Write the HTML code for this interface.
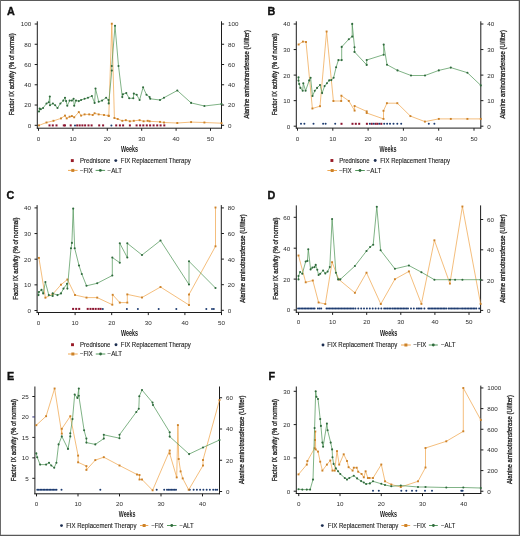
<!DOCTYPE html>
<html><head><meta charset="utf-8"><title>Figure</title>
<style>
html,body{margin:0;padding:0;background:#fff;}
body{width:520px;height:536px;overflow:hidden;}
svg{display:block;font-family:"Liberation Sans", sans-serif;filter:blur(0.3px);}
</style></head>
<body>
<svg width="520" height="536" viewBox="0 0 520 536">
<rect x="0" y="0" width="520" height="536" fill="#fff"/>
<text x="6.9" y="14.6" font-size="10.8" text-anchor="start" fill="#111" font-weight="bold" stroke="#111" stroke-width="0.35">A</text>
<line x1="37.3" y1="21.3" x2="37.3" y2="128.65" stroke="#1c1c1c" stroke-width="1"/>
<line x1="221.5" y1="21.3" x2="221.5" y2="128.65" stroke="#1c1c1c" stroke-width="1"/>
<line x1="36.85" y1="128.2" x2="221.95" y2="128.2" stroke="#1c1c1c" stroke-width="1"/>
<line x1="34.7" y1="125.3" x2="37.3" y2="125.3" stroke="#1c1c1c" stroke-width="1"/>
<text x="0" y="0" font-size="6.3" text-anchor="end" fill="#2a2a2a" transform="translate(31.2 127.75) scale(1 0.9)">0</text>
<line x1="34.7" y1="105.04" x2="37.3" y2="105.04" stroke="#1c1c1c" stroke-width="1"/>
<text x="0" y="0" font-size="6.3" text-anchor="end" fill="#2a2a2a" transform="translate(31.2 107.49) scale(1 0.9)">20</text>
<line x1="34.7" y1="84.78" x2="37.3" y2="84.78" stroke="#1c1c1c" stroke-width="1"/>
<text x="0" y="0" font-size="6.3" text-anchor="end" fill="#2a2a2a" transform="translate(31.2 87.23) scale(1 0.9)">40</text>
<line x1="34.7" y1="64.52" x2="37.3" y2="64.52" stroke="#1c1c1c" stroke-width="1"/>
<text x="0" y="0" font-size="6.3" text-anchor="end" fill="#2a2a2a" transform="translate(31.2 66.97) scale(1 0.9)">60</text>
<line x1="34.7" y1="44.26" x2="37.3" y2="44.26" stroke="#1c1c1c" stroke-width="1"/>
<text x="0" y="0" font-size="6.3" text-anchor="end" fill="#2a2a2a" transform="translate(31.2 46.71) scale(1 0.9)">80</text>
<line x1="34.7" y1="24" x2="37.3" y2="24" stroke="#1c1c1c" stroke-width="1"/>
<text x="0" y="0" font-size="6.3" text-anchor="end" fill="#2a2a2a" transform="translate(31.2 26.45) scale(1 0.9)">100</text>
<line x1="221.5" y1="125.3" x2="224.1" y2="125.3" stroke="#1c1c1c" stroke-width="1"/>
<text x="0" y="0" font-size="6.3" text-anchor="start" fill="#2a2a2a" transform="translate(227.9 127.75) scale(1 0.9)">0</text>
<line x1="221.5" y1="105.04" x2="224.1" y2="105.04" stroke="#1c1c1c" stroke-width="1"/>
<text x="0" y="0" font-size="6.3" text-anchor="start" fill="#2a2a2a" transform="translate(227.9 107.49) scale(1 0.9)">20</text>
<line x1="221.5" y1="84.78" x2="224.1" y2="84.78" stroke="#1c1c1c" stroke-width="1"/>
<text x="0" y="0" font-size="6.3" text-anchor="start" fill="#2a2a2a" transform="translate(227.9 87.23) scale(1 0.9)">40</text>
<line x1="221.5" y1="64.52" x2="224.1" y2="64.52" stroke="#1c1c1c" stroke-width="1"/>
<text x="0" y="0" font-size="6.3" text-anchor="start" fill="#2a2a2a" transform="translate(227.9 66.97) scale(1 0.9)">60</text>
<line x1="221.5" y1="44.26" x2="224.1" y2="44.26" stroke="#1c1c1c" stroke-width="1"/>
<text x="0" y="0" font-size="6.3" text-anchor="start" fill="#2a2a2a" transform="translate(227.9 46.71) scale(1 0.9)">80</text>
<line x1="221.5" y1="24" x2="224.1" y2="24" stroke="#1c1c1c" stroke-width="1"/>
<text x="0" y="0" font-size="6.3" text-anchor="start" fill="#2a2a2a" transform="translate(227.9 26.45) scale(1 0.9)">100</text>
<line x1="38.5" y1="128.2" x2="38.5" y2="130.8" stroke="#1c1c1c" stroke-width="1"/>
<text x="0" y="0" font-size="6.3" text-anchor="middle" fill="#2a2a2a" transform="translate(38.5 140.75) scale(1 0.9)">0</text>
<line x1="72.9" y1="128.2" x2="72.9" y2="130.8" stroke="#1c1c1c" stroke-width="1"/>
<text x="0" y="0" font-size="6.3" text-anchor="middle" fill="#2a2a2a" transform="translate(72.9 140.75) scale(1 0.9)">10</text>
<line x1="107.3" y1="128.2" x2="107.3" y2="130.8" stroke="#1c1c1c" stroke-width="1"/>
<text x="0" y="0" font-size="6.3" text-anchor="middle" fill="#2a2a2a" transform="translate(107.3 140.75) scale(1 0.9)">20</text>
<line x1="141.7" y1="128.2" x2="141.7" y2="130.8" stroke="#1c1c1c" stroke-width="1"/>
<text x="0" y="0" font-size="6.3" text-anchor="middle" fill="#2a2a2a" transform="translate(141.7 140.75) scale(1 0.9)">30</text>
<line x1="176.1" y1="128.2" x2="176.1" y2="130.8" stroke="#1c1c1c" stroke-width="1"/>
<text x="0" y="0" font-size="6.3" text-anchor="middle" fill="#2a2a2a" transform="translate(176.1 140.75) scale(1 0.9)">40</text>
<line x1="210.5" y1="128.2" x2="210.5" y2="130.8" stroke="#1c1c1c" stroke-width="1"/>
<text x="0" y="0" font-size="6.3" text-anchor="middle" fill="#2a2a2a" transform="translate(210.5 140.75) scale(1 0.9)">50</text>
<text x="14.5" y="74.3" font-size="7.2" text-anchor="middle" fill="#1e1e1e" textLength="82" lengthAdjust="spacingAndGlyphs" transform="rotate(-90 14.5 74.3)" stroke="#1e1e1e" stroke-width="0.3">Factor IX activity (% of normal)</text>
<text x="248.8" y="74.25" font-size="7.2" text-anchor="middle" fill="#1e1e1e" textLength="88.5" lengthAdjust="spacingAndGlyphs" transform="rotate(-90 248.8 74.25)" stroke="#1e1e1e" stroke-width="0.3">Alanine aminotransferase (U/liter)</text>
<text x="129.5" y="152.1" font-size="8.2" text-anchor="middle" fill="#1e1e1e" font-weight="bold" textLength="17" lengthAdjust="spacingAndGlyphs">Weeks</text>
<rect x="48.5" y="124.4" width="2" height="2" fill="#8c1530"/>
<rect x="51.8" y="124.4" width="2" height="2" fill="#8c1530"/>
<rect x="55.5" y="124.4" width="2" height="2" fill="#8c1530"/>
<rect x="62.8" y="124.4" width="2" height="2" fill="#8c1530"/>
<rect x="64" y="124.4" width="2" height="2" fill="#8c1530"/>
<rect x="69.7" y="124.4" width="2" height="2" fill="#8c1530"/>
<rect x="76.2" y="124.4" width="2" height="2" fill="#8c1530"/>
<rect x="78.7" y="124.4" width="2" height="2" fill="#8c1530"/>
<rect x="81.4" y="124.4" width="2" height="2" fill="#8c1530"/>
<rect x="84.1" y="124.4" width="2" height="2" fill="#8c1530"/>
<rect x="87.5" y="124.4" width="2" height="2" fill="#8c1530"/>
<rect x="90.6" y="124.4" width="2" height="2" fill="#8c1530"/>
<rect x="98.2" y="124.4" width="2" height="2" fill="#8c1530"/>
<rect x="102.1" y="124.4" width="2" height="2" fill="#8c1530"/>
<rect x="115.2" y="124.4" width="2" height="2" fill="#8c1530"/>
<rect x="118.9" y="124.4" width="2" height="2" fill="#8c1530"/>
<rect x="122.1" y="124.4" width="2" height="2" fill="#8c1530"/>
<rect x="128.9" y="124.4" width="2" height="2" fill="#8c1530"/>
<rect x="135.6" y="124.4" width="2" height="2" fill="#8c1530"/>
<rect x="139.1" y="124.4" width="2" height="2" fill="#8c1530"/>
<rect x="142.3" y="124.4" width="2" height="2" fill="#8c1530"/>
<rect x="145.8" y="124.4" width="2" height="2" fill="#8c1530"/>
<rect x="149.1" y="124.4" width="2" height="2" fill="#8c1530"/>
<rect x="152.6" y="124.4" width="2" height="2" fill="#8c1530"/>
<rect x="156.2" y="124.4" width="2" height="2" fill="#8c1530"/>
<rect x="159.6" y="124.4" width="2" height="2" fill="#8c1530"/>
<rect x="163.3" y="124.4" width="2" height="2" fill="#8c1530"/>
<circle cx="75" cy="125.4" r="1" fill="#1d3b70"/>
<circle cx="111.4" cy="125.4" r="1" fill="#1d3b70"/>
<polyline fill="none" stroke="#f0a852" stroke-width="0.75" stroke-linejoin="round" points="39,125.4 46.5,122.5 53.5,120.8 61,118.4 65,115.6 66.7,118.4 69.6,116.7 71.9,116.1 74.2,117.3 78.8,112.1 81.1,115.6 84.6,114.4 89.2,114.4 92.7,115 94.6,113.3 98.7,114.4 104,115 108.5,115.6 108.8,116 111.8,23.7 114.4,118 117.7,119 122.3,120.8 125.8,120.2 129.8,121.3 133.8,120.8 139.6,120.2 143.6,121.3 147.7,120.8 149.6,121.3 160,121.9 164,122.5 177.3,123 191.1,122.1 204.4,122.5 221.5,123.2"/>
<rect x="38.05" y="124.45" width="1.9" height="1.9" fill="#cc8229"/>
<rect x="45.55" y="121.55" width="1.9" height="1.9" fill="#cc8229"/>
<rect x="52.55" y="119.85" width="1.9" height="1.9" fill="#cc8229"/>
<rect x="60.05" y="117.45" width="1.9" height="1.9" fill="#cc8229"/>
<rect x="64.05" y="114.65" width="1.9" height="1.9" fill="#cc8229"/>
<rect x="65.75" y="117.45" width="1.9" height="1.9" fill="#cc8229"/>
<rect x="68.65" y="115.75" width="1.9" height="1.9" fill="#cc8229"/>
<rect x="70.95" y="115.15" width="1.9" height="1.9" fill="#cc8229"/>
<rect x="73.25" y="116.35" width="1.9" height="1.9" fill="#cc8229"/>
<rect x="77.85" y="111.15" width="1.9" height="1.9" fill="#cc8229"/>
<rect x="80.15" y="114.65" width="1.9" height="1.9" fill="#cc8229"/>
<rect x="83.65" y="113.45" width="1.9" height="1.9" fill="#cc8229"/>
<rect x="88.25" y="113.45" width="1.9" height="1.9" fill="#cc8229"/>
<rect x="91.75" y="114.05" width="1.9" height="1.9" fill="#cc8229"/>
<rect x="93.65" y="112.35" width="1.9" height="1.9" fill="#cc8229"/>
<rect x="97.75" y="113.45" width="1.9" height="1.9" fill="#cc8229"/>
<rect x="103.05" y="114.05" width="1.9" height="1.9" fill="#cc8229"/>
<rect x="107.55" y="114.65" width="1.9" height="1.9" fill="#cc8229"/>
<rect x="107.85" y="115.05" width="1.9" height="1.9" fill="#cc8229"/>
<rect x="110.85" y="22.75" width="1.9" height="1.9" fill="#cc8229"/>
<rect x="113.45" y="117.05" width="1.9" height="1.9" fill="#cc8229"/>
<rect x="116.75" y="118.05" width="1.9" height="1.9" fill="#cc8229"/>
<rect x="121.35" y="119.85" width="1.9" height="1.9" fill="#cc8229"/>
<rect x="124.85" y="119.25" width="1.9" height="1.9" fill="#cc8229"/>
<rect x="128.85" y="120.35" width="1.9" height="1.9" fill="#cc8229"/>
<rect x="132.85" y="119.85" width="1.9" height="1.9" fill="#cc8229"/>
<rect x="138.65" y="119.25" width="1.9" height="1.9" fill="#cc8229"/>
<rect x="142.65" y="120.35" width="1.9" height="1.9" fill="#cc8229"/>
<rect x="146.75" y="119.85" width="1.9" height="1.9" fill="#cc8229"/>
<rect x="148.65" y="120.35" width="1.9" height="1.9" fill="#cc8229"/>
<rect x="159.05" y="120.95" width="1.9" height="1.9" fill="#cc8229"/>
<rect x="163.05" y="121.55" width="1.9" height="1.9" fill="#cc8229"/>
<rect x="176.35" y="122.05" width="1.9" height="1.9" fill="#cc8229"/>
<rect x="190.15" y="121.15" width="1.9" height="1.9" fill="#cc8229"/>
<rect x="203.45" y="121.55" width="1.9" height="1.9" fill="#cc8229"/>
<rect x="220.55" y="122.25" width="1.9" height="1.9" fill="#cc8229"/>
<polyline fill="none" stroke="#559a5e" stroke-width="0.75" stroke-linejoin="round" points="39,111.5 39.6,108.6 40.8,109.2 43.1,108 46.5,103.5 48.8,102.3 49.8,96.5 50,105.2 52.9,103.5 55.2,105.2 57.5,108 60.4,103.5 63.3,100.6 65,97.7 66.1,101.1 67.3,105.8 69.6,100.6 71.9,100.6 73.6,98.8 74.2,105.8 76,100.6 78.8,101.1 81.1,100 84.6,98.8 88,97.7 91.9,96 94.6,102.9 95.5,88.5 98.7,101.7 102.1,100.6 106.1,97.7 108.5,100 108.7,103.4 111.8,70.6 111.8,66 115,25.8 118.5,66 122.3,97.1 122.9,94.2 126.3,93.1 129.2,98.3 133.3,98.3 133.8,93.6 136.7,94.8 139.6,100 143.1,87.3 146.5,94.8 149.6,97.1 150.2,98.8 160,100 164,97.7 177.3,90.5 191.1,102.9 204.4,106 221.5,104"/>
<circle cx="39" cy="111.5" r="1.05" fill="#2f6a3c"/>
<circle cx="39.6" cy="108.6" r="1.05" fill="#2f6a3c"/>
<circle cx="40.8" cy="109.2" r="1.05" fill="#2f6a3c"/>
<circle cx="43.1" cy="108" r="1.05" fill="#2f6a3c"/>
<circle cx="46.5" cy="103.5" r="1.05" fill="#2f6a3c"/>
<circle cx="48.8" cy="102.3" r="1.05" fill="#2f6a3c"/>
<circle cx="49.8" cy="96.5" r="1.05" fill="#2f6a3c"/>
<circle cx="50" cy="105.2" r="1.05" fill="#2f6a3c"/>
<circle cx="52.9" cy="103.5" r="1.05" fill="#2f6a3c"/>
<circle cx="55.2" cy="105.2" r="1.05" fill="#2f6a3c"/>
<circle cx="57.5" cy="108" r="1.05" fill="#2f6a3c"/>
<circle cx="60.4" cy="103.5" r="1.05" fill="#2f6a3c"/>
<circle cx="63.3" cy="100.6" r="1.05" fill="#2f6a3c"/>
<circle cx="65" cy="97.7" r="1.05" fill="#2f6a3c"/>
<circle cx="66.1" cy="101.1" r="1.05" fill="#2f6a3c"/>
<circle cx="67.3" cy="105.8" r="1.05" fill="#2f6a3c"/>
<circle cx="69.6" cy="100.6" r="1.05" fill="#2f6a3c"/>
<circle cx="71.9" cy="100.6" r="1.05" fill="#2f6a3c"/>
<circle cx="73.6" cy="98.8" r="1.05" fill="#2f6a3c"/>
<circle cx="74.2" cy="105.8" r="1.05" fill="#2f6a3c"/>
<circle cx="76" cy="100.6" r="1.05" fill="#2f6a3c"/>
<circle cx="78.8" cy="101.1" r="1.05" fill="#2f6a3c"/>
<circle cx="81.1" cy="100" r="1.05" fill="#2f6a3c"/>
<circle cx="84.6" cy="98.8" r="1.05" fill="#2f6a3c"/>
<circle cx="88" cy="97.7" r="1.05" fill="#2f6a3c"/>
<circle cx="91.9" cy="96" r="1.05" fill="#2f6a3c"/>
<circle cx="94.6" cy="102.9" r="1.05" fill="#2f6a3c"/>
<circle cx="95.5" cy="88.5" r="1.05" fill="#2f6a3c"/>
<circle cx="98.7" cy="101.7" r="1.05" fill="#2f6a3c"/>
<circle cx="102.1" cy="100.6" r="1.05" fill="#2f6a3c"/>
<circle cx="106.1" cy="97.7" r="1.05" fill="#2f6a3c"/>
<circle cx="108.5" cy="100" r="1.05" fill="#2f6a3c"/>
<circle cx="108.7" cy="103.4" r="1.05" fill="#2f6a3c"/>
<circle cx="111.8" cy="70.6" r="1.05" fill="#2f6a3c"/>
<circle cx="111.8" cy="66" r="1.05" fill="#2f6a3c"/>
<circle cx="115" cy="25.8" r="1.05" fill="#2f6a3c"/>
<circle cx="118.5" cy="66" r="1.05" fill="#2f6a3c"/>
<circle cx="122.3" cy="97.1" r="1.05" fill="#2f6a3c"/>
<circle cx="122.9" cy="94.2" r="1.05" fill="#2f6a3c"/>
<circle cx="126.3" cy="93.1" r="1.05" fill="#2f6a3c"/>
<circle cx="129.2" cy="98.3" r="1.05" fill="#2f6a3c"/>
<circle cx="133.3" cy="98.3" r="1.05" fill="#2f6a3c"/>
<circle cx="133.8" cy="93.6" r="1.05" fill="#2f6a3c"/>
<circle cx="136.7" cy="94.8" r="1.05" fill="#2f6a3c"/>
<circle cx="139.6" cy="100" r="1.05" fill="#2f6a3c"/>
<circle cx="143.1" cy="87.3" r="1.05" fill="#2f6a3c"/>
<circle cx="146.5" cy="94.8" r="1.05" fill="#2f6a3c"/>
<circle cx="149.6" cy="97.1" r="1.05" fill="#2f6a3c"/>
<circle cx="150.2" cy="98.8" r="1.05" fill="#2f6a3c"/>
<circle cx="160" cy="100" r="1.05" fill="#2f6a3c"/>
<circle cx="164" cy="97.7" r="1.05" fill="#2f6a3c"/>
<circle cx="177.3" cy="90.5" r="1.05" fill="#2f6a3c"/>
<circle cx="191.1" cy="102.9" r="1.05" fill="#2f6a3c"/>
<circle cx="204.4" cy="106" r="1.05" fill="#2f6a3c"/>
<circle cx="221.5" cy="104" r="1.05" fill="#2f6a3c"/>
<rect x="70.85" y="159.15" width="2.9" height="2.9" fill="#981a26"/>
<text x="80.1" y="162.95" font-size="6.5" text-anchor="start" fill="#222" textLength="30.3" lengthAdjust="spacingAndGlyphs" stroke="#222" stroke-width="0.12">Prednisone</text>
<circle cx="115.8" cy="160.6" r="1.45" fill="#1b2d50"/>
<text x="120.8" y="162.95" font-size="6.5" text-anchor="start" fill="#222" textLength="70" lengthAdjust="spacingAndGlyphs" stroke="#222" stroke-width="0.12">FIX Replacement Therapy</text>
<line x1="68" y1="170.4" x2="77.6" y2="170.4" stroke="#f0a852" stroke-width="1"/>
<rect x="71.3" y="168.9" width="3" height="3" fill="#cc8229"/>
<text x="80.1" y="172.75" font-size="6.5" text-anchor="start" fill="#222" textLength="12.5" lengthAdjust="spacingAndGlyphs" stroke="#222" stroke-width="0.12">−FIX</text>
<line x1="95.6" y1="170.4" x2="105.1" y2="170.4" stroke="#559a5e" stroke-width="1"/>
<circle cx="100.35" cy="170.4" r="1.4" fill="#2f6a3c"/>
<text x="107.6" y="172.75" font-size="6.5" text-anchor="start" fill="#222" textLength="14.4" lengthAdjust="spacingAndGlyphs" stroke="#222" stroke-width="0.12">−ALT</text>
<text x="267.6" y="15" font-size="10.8" text-anchor="start" fill="#111" font-weight="bold" stroke="#111" stroke-width="0.35">B</text>
<line x1="296.3" y1="21.3" x2="296.3" y2="128.55" stroke="#1c1c1c" stroke-width="1"/>
<line x1="480.8" y1="21.3" x2="480.8" y2="128.55" stroke="#1c1c1c" stroke-width="1"/>
<line x1="295.85" y1="128.1" x2="481.25" y2="128.1" stroke="#1c1c1c" stroke-width="1"/>
<line x1="293.7" y1="126.2" x2="296.3" y2="126.2" stroke="#1c1c1c" stroke-width="1"/>
<text x="0" y="0" font-size="6.3" text-anchor="end" fill="#2a2a2a" transform="translate(290.2 128.65) scale(1 0.9)">0</text>
<line x1="293.7" y1="100.65" x2="296.3" y2="100.65" stroke="#1c1c1c" stroke-width="1"/>
<text x="0" y="0" font-size="6.3" text-anchor="end" fill="#2a2a2a" transform="translate(290.2 103.1) scale(1 0.9)">10</text>
<line x1="293.7" y1="75.1" x2="296.3" y2="75.1" stroke="#1c1c1c" stroke-width="1"/>
<text x="0" y="0" font-size="6.3" text-anchor="end" fill="#2a2a2a" transform="translate(290.2 77.55) scale(1 0.9)">20</text>
<line x1="293.7" y1="49.55" x2="296.3" y2="49.55" stroke="#1c1c1c" stroke-width="1"/>
<text x="0" y="0" font-size="6.3" text-anchor="end" fill="#2a2a2a" transform="translate(290.2 52) scale(1 0.9)">30</text>
<line x1="293.7" y1="24" x2="296.3" y2="24" stroke="#1c1c1c" stroke-width="1"/>
<text x="0" y="0" font-size="6.3" text-anchor="end" fill="#2a2a2a" transform="translate(290.2 26.45) scale(1 0.9)">40</text>
<line x1="480.8" y1="126.2" x2="483.4" y2="126.2" stroke="#1c1c1c" stroke-width="1"/>
<text x="0" y="0" font-size="6.3" text-anchor="start" fill="#2a2a2a" transform="translate(487.2 128.65) scale(1 0.9)">0</text>
<line x1="480.8" y1="100.65" x2="483.4" y2="100.65" stroke="#1c1c1c" stroke-width="1"/>
<text x="0" y="0" font-size="6.3" text-anchor="start" fill="#2a2a2a" transform="translate(487.2 103.1) scale(1 0.9)">10</text>
<line x1="480.8" y1="75.1" x2="483.4" y2="75.1" stroke="#1c1c1c" stroke-width="1"/>
<text x="0" y="0" font-size="6.3" text-anchor="start" fill="#2a2a2a" transform="translate(487.2 77.55) scale(1 0.9)">20</text>
<line x1="480.8" y1="49.55" x2="483.4" y2="49.55" stroke="#1c1c1c" stroke-width="1"/>
<text x="0" y="0" font-size="6.3" text-anchor="start" fill="#2a2a2a" transform="translate(487.2 52) scale(1 0.9)">30</text>
<line x1="480.8" y1="24" x2="483.4" y2="24" stroke="#1c1c1c" stroke-width="1"/>
<text x="0" y="0" font-size="6.3" text-anchor="start" fill="#2a2a2a" transform="translate(487.2 26.45) scale(1 0.9)">40</text>
<line x1="297.5" y1="128.1" x2="297.5" y2="130.7" stroke="#1c1c1c" stroke-width="1"/>
<text x="0" y="0" font-size="6.3" text-anchor="middle" fill="#2a2a2a" transform="translate(297.5 140.75) scale(1 0.9)">0</text>
<line x1="332.8" y1="128.1" x2="332.8" y2="130.7" stroke="#1c1c1c" stroke-width="1"/>
<text x="0" y="0" font-size="6.3" text-anchor="middle" fill="#2a2a2a" transform="translate(332.8 140.75) scale(1 0.9)">10</text>
<line x1="368.1" y1="128.1" x2="368.1" y2="130.7" stroke="#1c1c1c" stroke-width="1"/>
<text x="0" y="0" font-size="6.3" text-anchor="middle" fill="#2a2a2a" transform="translate(368.1 140.75) scale(1 0.9)">20</text>
<line x1="403.4" y1="128.1" x2="403.4" y2="130.7" stroke="#1c1c1c" stroke-width="1"/>
<text x="0" y="0" font-size="6.3" text-anchor="middle" fill="#2a2a2a" transform="translate(403.4 140.75) scale(1 0.9)">30</text>
<line x1="438.7" y1="128.1" x2="438.7" y2="130.7" stroke="#1c1c1c" stroke-width="1"/>
<text x="0" y="0" font-size="6.3" text-anchor="middle" fill="#2a2a2a" transform="translate(438.7 140.75) scale(1 0.9)">40</text>
<line x1="474" y1="128.1" x2="474" y2="130.7" stroke="#1c1c1c" stroke-width="1"/>
<text x="0" y="0" font-size="6.3" text-anchor="middle" fill="#2a2a2a" transform="translate(474 140.75) scale(1 0.9)">50</text>
<text x="277.4" y="74.3" font-size="7.2" text-anchor="middle" fill="#1e1e1e" textLength="82" lengthAdjust="spacingAndGlyphs" transform="rotate(-90 277.4 74.3)" stroke="#1e1e1e" stroke-width="0.3">Factor IX activity (% of normal)</text>
<text x="504.7" y="74.25" font-size="7.2" text-anchor="middle" fill="#1e1e1e" textLength="88.5" lengthAdjust="spacingAndGlyphs" transform="rotate(-90 504.7 74.25)" stroke="#1e1e1e" stroke-width="0.3">Alanine aminotransferase (U/liter)</text>
<text x="388" y="152.3" font-size="8.2" text-anchor="middle" fill="#1e1e1e" font-weight="bold" textLength="17" lengthAdjust="spacingAndGlyphs">Weeks</text>
<rect x="340.5" y="122.8" width="2" height="2" fill="#8c1530"/>
<rect x="351.5" y="122.8" width="2" height="2" fill="#8c1530"/>
<rect x="354.8" y="122.8" width="2" height="2" fill="#8c1530"/>
<rect x="358.2" y="122.8" width="2" height="2" fill="#8c1530"/>
<rect x="365.9" y="122.8" width="2" height="2" fill="#8c1530"/>
<rect x="370.7" y="122.8" width="2" height="2" fill="#8c1530"/>
<rect x="374.6" y="122.8" width="2" height="2" fill="#8c1530"/>
<rect x="376.5" y="122.8" width="2" height="2" fill="#8c1530"/>
<rect x="380.3" y="122.8" width="2" height="2" fill="#8c1530"/>
<circle cx="301" cy="123.8" r="1" fill="#1d3b70"/>
<circle cx="304.4" cy="123.8" r="1" fill="#1d3b70"/>
<circle cx="313.5" cy="123.8" r="1" fill="#1d3b70"/>
<circle cx="323.1" cy="123.8" r="1" fill="#1d3b70"/>
<circle cx="325.6" cy="123.8" r="1" fill="#1d3b70"/>
<circle cx="335.2" cy="123.8" r="1" fill="#1d3b70"/>
<circle cx="369.8" cy="123.8" r="1" fill="#1d3b70"/>
<circle cx="373.7" cy="123.8" r="1" fill="#1d3b70"/>
<circle cx="379.4" cy="123.8" r="1" fill="#1d3b70"/>
<circle cx="384.2" cy="123.8" r="1" fill="#1d3b70"/>
<circle cx="387.1" cy="123.8" r="1" fill="#1d3b70"/>
<circle cx="390" cy="123.8" r="1" fill="#1d3b70"/>
<circle cx="393.5" cy="123.8" r="1" fill="#1d3b70"/>
<circle cx="397.3" cy="123.8" r="1" fill="#1d3b70"/>
<circle cx="401.2" cy="123.8" r="1" fill="#1d3b70"/>
<circle cx="428.8" cy="123.8" r="1" fill="#1d3b70"/>
<circle cx="434.4" cy="123.8" r="1" fill="#1d3b70"/>
<polyline fill="none" stroke="#f0a852" stroke-width="0.75" stroke-linejoin="round" points="298.6,44.5 302.9,41.6 306,42 312.4,108.5 320,106.2 326.6,31.5 333.4,101 341.2,101 341.4,95.7 348.8,100.9 354.6,110.6 354.6,106 366.7,111.4 366.7,113 383.5,118.9 383.5,110.8 386.9,103.2 397.3,103.2 410.4,116.1 424.9,121.6 438.8,118.9 450.8,118.9 467.4,118.9 480.8,118.9"/>
<rect x="297.65" y="43.55" width="1.9" height="1.9" fill="#cc8229"/>
<rect x="301.95" y="40.65" width="1.9" height="1.9" fill="#cc8229"/>
<rect x="305.05" y="41.05" width="1.9" height="1.9" fill="#cc8229"/>
<rect x="311.45" y="107.55" width="1.9" height="1.9" fill="#cc8229"/>
<rect x="319.05" y="105.25" width="1.9" height="1.9" fill="#cc8229"/>
<rect x="325.65" y="30.55" width="1.9" height="1.9" fill="#cc8229"/>
<rect x="332.45" y="100.05" width="1.9" height="1.9" fill="#cc8229"/>
<rect x="340.25" y="100.05" width="1.9" height="1.9" fill="#cc8229"/>
<rect x="340.45" y="94.75" width="1.9" height="1.9" fill="#cc8229"/>
<rect x="347.85" y="99.95" width="1.9" height="1.9" fill="#cc8229"/>
<rect x="353.65" y="109.65" width="1.9" height="1.9" fill="#cc8229"/>
<rect x="353.65" y="105.05" width="1.9" height="1.9" fill="#cc8229"/>
<rect x="365.75" y="110.45" width="1.9" height="1.9" fill="#cc8229"/>
<rect x="365.75" y="112.05" width="1.9" height="1.9" fill="#cc8229"/>
<rect x="382.55" y="117.95" width="1.9" height="1.9" fill="#cc8229"/>
<rect x="382.55" y="109.85" width="1.9" height="1.9" fill="#cc8229"/>
<rect x="385.95" y="102.25" width="1.9" height="1.9" fill="#cc8229"/>
<rect x="396.35" y="102.25" width="1.9" height="1.9" fill="#cc8229"/>
<rect x="409.45" y="115.15" width="1.9" height="1.9" fill="#cc8229"/>
<rect x="423.95" y="120.65" width="1.9" height="1.9" fill="#cc8229"/>
<rect x="437.85" y="117.95" width="1.9" height="1.9" fill="#cc8229"/>
<rect x="449.85" y="117.95" width="1.9" height="1.9" fill="#cc8229"/>
<rect x="466.45" y="117.95" width="1.9" height="1.9" fill="#cc8229"/>
<rect x="479.85" y="117.95" width="1.9" height="1.9" fill="#cc8229"/>
<polyline fill="none" stroke="#559a5e" stroke-width="0.75" stroke-linejoin="round" points="298.5,77.4 298.5,80.6 299.2,84 300.4,87.9 302.7,90.8 303.3,83.3 305.6,90.8 309.2,80.4 310.6,77.8 312.5,96 314.8,90.8 317.1,87.9 320,85 322.1,93.1 324.6,86.1 326.9,83.3 329.2,80.4 331.3,80.1 333.6,77.8 336.1,67.3 338.4,60.1 341.7,60.1 341.7,46.9 348.8,39.2 352.2,36.6 352.2,23.9 354.5,47.3 354.5,51.9 366.7,64.9 366.7,60 383.7,54.7 383.7,44.6 387,64.7 397.5,70.4 411,75.5 425,75.5 438.8,70.4 450.8,67.6 467.4,72.7 480.8,85.4"/>
<circle cx="298.5" cy="77.4" r="1.05" fill="#2f6a3c"/>
<circle cx="298.5" cy="80.6" r="1.05" fill="#2f6a3c"/>
<circle cx="299.2" cy="84" r="1.05" fill="#2f6a3c"/>
<circle cx="300.4" cy="87.9" r="1.05" fill="#2f6a3c"/>
<circle cx="302.7" cy="90.8" r="1.05" fill="#2f6a3c"/>
<circle cx="303.3" cy="83.3" r="1.05" fill="#2f6a3c"/>
<circle cx="305.6" cy="90.8" r="1.05" fill="#2f6a3c"/>
<circle cx="309.2" cy="80.4" r="1.05" fill="#2f6a3c"/>
<circle cx="310.6" cy="77.8" r="1.05" fill="#2f6a3c"/>
<circle cx="312.5" cy="96" r="1.05" fill="#2f6a3c"/>
<circle cx="314.8" cy="90.8" r="1.05" fill="#2f6a3c"/>
<circle cx="317.1" cy="87.9" r="1.05" fill="#2f6a3c"/>
<circle cx="320" cy="85" r="1.05" fill="#2f6a3c"/>
<circle cx="322.1" cy="93.1" r="1.05" fill="#2f6a3c"/>
<circle cx="324.6" cy="86.1" r="1.05" fill="#2f6a3c"/>
<circle cx="326.9" cy="83.3" r="1.05" fill="#2f6a3c"/>
<circle cx="329.2" cy="80.4" r="1.05" fill="#2f6a3c"/>
<circle cx="331.3" cy="80.1" r="1.05" fill="#2f6a3c"/>
<circle cx="333.6" cy="77.8" r="1.05" fill="#2f6a3c"/>
<circle cx="336.1" cy="67.3" r="1.05" fill="#2f6a3c"/>
<circle cx="338.4" cy="60.1" r="1.05" fill="#2f6a3c"/>
<circle cx="341.7" cy="60.1" r="1.05" fill="#2f6a3c"/>
<circle cx="341.7" cy="46.9" r="1.05" fill="#2f6a3c"/>
<circle cx="348.8" cy="39.2" r="1.05" fill="#2f6a3c"/>
<circle cx="352.2" cy="36.6" r="1.05" fill="#2f6a3c"/>
<circle cx="352.2" cy="23.9" r="1.05" fill="#2f6a3c"/>
<circle cx="354.5" cy="47.3" r="1.05" fill="#2f6a3c"/>
<circle cx="354.5" cy="51.9" r="1.05" fill="#2f6a3c"/>
<circle cx="366.7" cy="64.9" r="1.05" fill="#2f6a3c"/>
<circle cx="366.7" cy="60" r="1.05" fill="#2f6a3c"/>
<circle cx="383.7" cy="54.7" r="1.05" fill="#2f6a3c"/>
<circle cx="383.7" cy="44.6" r="1.05" fill="#2f6a3c"/>
<circle cx="387" cy="64.7" r="1.05" fill="#2f6a3c"/>
<circle cx="397.5" cy="70.4" r="1.05" fill="#2f6a3c"/>
<circle cx="411" cy="75.5" r="1.05" fill="#2f6a3c"/>
<circle cx="425" cy="75.5" r="1.05" fill="#2f6a3c"/>
<circle cx="438.8" cy="70.4" r="1.05" fill="#2f6a3c"/>
<circle cx="450.8" cy="67.6" r="1.05" fill="#2f6a3c"/>
<circle cx="467.4" cy="72.7" r="1.05" fill="#2f6a3c"/>
<circle cx="480.8" cy="85.4" r="1.05" fill="#2f6a3c"/>
<rect x="330.45" y="159.05" width="2.9" height="2.9" fill="#981a26"/>
<text x="339.2" y="162.85" font-size="6.5" text-anchor="start" fill="#222" textLength="30.3" lengthAdjust="spacingAndGlyphs" stroke="#222" stroke-width="0.12">Prednisone</text>
<circle cx="375.2" cy="160.5" r="1.45" fill="#1b2d50"/>
<text x="380.2" y="162.85" font-size="6.5" text-anchor="start" fill="#222" textLength="69.8" lengthAdjust="spacingAndGlyphs" stroke="#222" stroke-width="0.12">FIX Replacement Therapy</text>
<line x1="327.4" y1="170.5" x2="337" y2="170.5" stroke="#f0a852" stroke-width="1"/>
<rect x="330.7" y="169" width="3" height="3" fill="#cc8229"/>
<text x="339.2" y="172.85" font-size="6.5" text-anchor="start" fill="#222" textLength="12.4" lengthAdjust="spacingAndGlyphs" stroke="#222" stroke-width="0.12">−FIX</text>
<line x1="355.2" y1="170.5" x2="364.8" y2="170.5" stroke="#559a5e" stroke-width="1"/>
<circle cx="360" cy="170.5" r="1.4" fill="#2f6a3c"/>
<text x="366.7" y="172.85" font-size="6.5" text-anchor="start" fill="#222" textLength="14.5" lengthAdjust="spacingAndGlyphs" stroke="#222" stroke-width="0.12">−ALT</text>
<text x="6.6" y="199" font-size="10.8" text-anchor="start" fill="#111" font-weight="bold" stroke="#111" stroke-width="0.35">C</text>
<line x1="37.1" y1="205.1" x2="37.1" y2="312.95" stroke="#1c1c1c" stroke-width="1"/>
<line x1="221.3" y1="205.1" x2="221.3" y2="312.95" stroke="#1c1c1c" stroke-width="1"/>
<line x1="36.65" y1="312.5" x2="221.75" y2="312.5" stroke="#1c1c1c" stroke-width="1"/>
<line x1="34.5" y1="310.5" x2="37.1" y2="310.5" stroke="#1c1c1c" stroke-width="1"/>
<text x="0" y="0" font-size="6.3" text-anchor="end" fill="#2a2a2a" transform="translate(31 312.95) scale(1 0.9)">0</text>
<line x1="34.5" y1="284.85" x2="37.1" y2="284.85" stroke="#1c1c1c" stroke-width="1"/>
<text x="0" y="0" font-size="6.3" text-anchor="end" fill="#2a2a2a" transform="translate(31 287.3) scale(1 0.9)">10</text>
<line x1="34.5" y1="259.2" x2="37.1" y2="259.2" stroke="#1c1c1c" stroke-width="1"/>
<text x="0" y="0" font-size="6.3" text-anchor="end" fill="#2a2a2a" transform="translate(31 261.65) scale(1 0.9)">20</text>
<line x1="34.5" y1="233.55" x2="37.1" y2="233.55" stroke="#1c1c1c" stroke-width="1"/>
<text x="0" y="0" font-size="6.3" text-anchor="end" fill="#2a2a2a" transform="translate(31 236) scale(1 0.9)">30</text>
<line x1="34.5" y1="207.9" x2="37.1" y2="207.9" stroke="#1c1c1c" stroke-width="1"/>
<text x="0" y="0" font-size="6.3" text-anchor="end" fill="#2a2a2a" transform="translate(31 210.35) scale(1 0.9)">40</text>
<line x1="221.3" y1="310.3" x2="223.9" y2="310.3" stroke="#1c1c1c" stroke-width="1"/>
<text x="0" y="0" font-size="6.3" text-anchor="start" fill="#2a2a2a" transform="translate(227.7 312.75) scale(1 0.9)">0</text>
<line x1="221.3" y1="284.7" x2="223.9" y2="284.7" stroke="#1c1c1c" stroke-width="1"/>
<text x="0" y="0" font-size="6.3" text-anchor="start" fill="#2a2a2a" transform="translate(227.7 287.15) scale(1 0.9)">20</text>
<line x1="221.3" y1="259.1" x2="223.9" y2="259.1" stroke="#1c1c1c" stroke-width="1"/>
<text x="0" y="0" font-size="6.3" text-anchor="start" fill="#2a2a2a" transform="translate(227.7 261.55) scale(1 0.9)">40</text>
<line x1="221.3" y1="233.5" x2="223.9" y2="233.5" stroke="#1c1c1c" stroke-width="1"/>
<text x="0" y="0" font-size="6.3" text-anchor="start" fill="#2a2a2a" transform="translate(227.7 235.95) scale(1 0.9)">60</text>
<line x1="221.3" y1="207.9" x2="223.9" y2="207.9" stroke="#1c1c1c" stroke-width="1"/>
<text x="0" y="0" font-size="6.3" text-anchor="start" fill="#2a2a2a" transform="translate(227.7 210.35) scale(1 0.9)">80</text>
<line x1="38.5" y1="312.5" x2="38.5" y2="315.1" stroke="#1c1c1c" stroke-width="1"/>
<text x="0" y="0" font-size="6.3" text-anchor="middle" fill="#2a2a2a" transform="translate(38.5 324.55) scale(1 0.9)">0</text>
<line x1="75.1" y1="312.5" x2="75.1" y2="315.1" stroke="#1c1c1c" stroke-width="1"/>
<text x="0" y="0" font-size="6.3" text-anchor="middle" fill="#2a2a2a" transform="translate(75.1 324.55) scale(1 0.9)">10</text>
<line x1="111.7" y1="312.5" x2="111.7" y2="315.1" stroke="#1c1c1c" stroke-width="1"/>
<text x="0" y="0" font-size="6.3" text-anchor="middle" fill="#2a2a2a" transform="translate(111.7 324.55) scale(1 0.9)">20</text>
<line x1="148.3" y1="312.5" x2="148.3" y2="315.1" stroke="#1c1c1c" stroke-width="1"/>
<text x="0" y="0" font-size="6.3" text-anchor="middle" fill="#2a2a2a" transform="translate(148.3 324.55) scale(1 0.9)">30</text>
<line x1="184.9" y1="312.5" x2="184.9" y2="315.1" stroke="#1c1c1c" stroke-width="1"/>
<text x="0" y="0" font-size="6.3" text-anchor="middle" fill="#2a2a2a" transform="translate(184.9 324.55) scale(1 0.9)">40</text>
<line x1="221.5" y1="312.5" x2="221.5" y2="315.1" stroke="#1c1c1c" stroke-width="1"/>
<text x="0" y="0" font-size="6.3" text-anchor="middle" fill="#2a2a2a" transform="translate(221.5 324.55) scale(1 0.9)">50</text>
<text x="18.3" y="258.6" font-size="7.2" text-anchor="middle" fill="#1e1e1e" textLength="82.2" lengthAdjust="spacingAndGlyphs" transform="rotate(-90 18.3 258.6)" stroke="#1e1e1e" stroke-width="0.3">Factor IX activity (% of normal)</text>
<text x="245.5" y="258.45" font-size="7.2" text-anchor="middle" fill="#1e1e1e" textLength="88.5" lengthAdjust="spacingAndGlyphs" transform="rotate(-90 245.5 258.45)" stroke="#1e1e1e" stroke-width="0.3">Alanine aminotransferase (U/liter)</text>
<text x="129.6" y="336.1" font-size="8.2" text-anchor="middle" fill="#1e1e1e" font-weight="bold" textLength="17" lengthAdjust="spacingAndGlyphs">Weeks</text>
<rect x="72.1" y="307.9" width="2" height="2" fill="#8c1530"/>
<rect x="75.2" y="307.9" width="2" height="2" fill="#8c1530"/>
<rect x="78.2" y="307.9" width="2" height="2" fill="#8c1530"/>
<rect x="86.7" y="307.9" width="2" height="2" fill="#8c1530"/>
<rect x="89.5" y="307.9" width="2" height="2" fill="#8c1530"/>
<rect x="92.1" y="307.9" width="2" height="2" fill="#8c1530"/>
<rect x="94.7" y="307.9" width="2" height="2" fill="#8c1530"/>
<rect x="97.5" y="307.9" width="2" height="2" fill="#8c1530"/>
<rect x="99.6" y="307.9" width="2" height="2" fill="#8c1530"/>
<circle cx="102.8" cy="308.9" r="1" fill="#1d3b70"/>
<circle cx="126.9" cy="308.9" r="1" fill="#1d3b70"/>
<circle cx="137.9" cy="308.9" r="1" fill="#1d3b70"/>
<circle cx="158.7" cy="308.9" r="1" fill="#1d3b70"/>
<circle cx="176.3" cy="308.9" r="1" fill="#1d3b70"/>
<circle cx="206.3" cy="308.9" r="1" fill="#1d3b70"/>
<circle cx="212" cy="308.9" r="1" fill="#1d3b70"/>
<circle cx="213.8" cy="308.9" r="1" fill="#1d3b70"/>
<polyline fill="none" stroke="#f0a852" stroke-width="0.75" stroke-linejoin="round" points="38.9,257.9 45.4,297.7 52.7,294.2 61,284.7 67.4,279.5 75,295 86.5,297.6 97.2,297.6 112.3,304.7 112.7,294.8 119.8,302.6 127.3,302.6 127.3,294.4 142,297.5 160.5,287 189,305 189,294.5 215.5,246.3 215.5,207.5"/>
<rect x="37.95" y="256.95" width="1.9" height="1.9" fill="#cc8229"/>
<rect x="44.45" y="296.75" width="1.9" height="1.9" fill="#cc8229"/>
<rect x="51.75" y="293.25" width="1.9" height="1.9" fill="#cc8229"/>
<rect x="60.05" y="283.75" width="1.9" height="1.9" fill="#cc8229"/>
<rect x="66.45" y="278.55" width="1.9" height="1.9" fill="#cc8229"/>
<rect x="74.05" y="294.05" width="1.9" height="1.9" fill="#cc8229"/>
<rect x="85.55" y="296.65" width="1.9" height="1.9" fill="#cc8229"/>
<rect x="96.25" y="296.65" width="1.9" height="1.9" fill="#cc8229"/>
<rect x="111.35" y="303.75" width="1.9" height="1.9" fill="#cc8229"/>
<rect x="111.75" y="293.85" width="1.9" height="1.9" fill="#cc8229"/>
<rect x="118.85" y="301.65" width="1.9" height="1.9" fill="#cc8229"/>
<rect x="126.35" y="301.65" width="1.9" height="1.9" fill="#cc8229"/>
<rect x="126.35" y="293.45" width="1.9" height="1.9" fill="#cc8229"/>
<rect x="141.05" y="296.55" width="1.9" height="1.9" fill="#cc8229"/>
<rect x="159.55" y="286.05" width="1.9" height="1.9" fill="#cc8229"/>
<rect x="188.05" y="304.05" width="1.9" height="1.9" fill="#cc8229"/>
<rect x="188.05" y="293.55" width="1.9" height="1.9" fill="#cc8229"/>
<rect x="214.55" y="245.35" width="1.9" height="1.9" fill="#cc8229"/>
<rect x="214.55" y="206.55" width="1.9" height="1.9" fill="#cc8229"/>
<polyline fill="none" stroke="#559a5e" stroke-width="0.75" stroke-linejoin="round" points="38.5,295.1 38.9,292 41.5,289.9 43.2,293.4 45.4,282.1 48.8,295.1 52.7,296 52.7,293.4 57.5,295.1 61,293.4 63.5,288.6 67,283.8 67.4,288.6 71,248.3 71.9,242.9 73.2,208.6 74.7,248.3 79,265.5 81.8,274 86.5,285.8 97.2,283.3 112.3,275.5 112.3,257.5 119.8,262.7 119.8,243.3 127.3,257.5 127.3,243.3 142,255 160.5,240.5 189,284.5 189,261.3 215.5,288"/>
<circle cx="38.5" cy="295.1" r="1.05" fill="#2f6a3c"/>
<circle cx="38.9" cy="292" r="1.05" fill="#2f6a3c"/>
<circle cx="41.5" cy="289.9" r="1.05" fill="#2f6a3c"/>
<circle cx="43.2" cy="293.4" r="1.05" fill="#2f6a3c"/>
<circle cx="45.4" cy="282.1" r="1.05" fill="#2f6a3c"/>
<circle cx="48.8" cy="295.1" r="1.05" fill="#2f6a3c"/>
<circle cx="52.7" cy="296" r="1.05" fill="#2f6a3c"/>
<circle cx="52.7" cy="293.4" r="1.05" fill="#2f6a3c"/>
<circle cx="57.5" cy="295.1" r="1.05" fill="#2f6a3c"/>
<circle cx="61" cy="293.4" r="1.05" fill="#2f6a3c"/>
<circle cx="63.5" cy="288.6" r="1.05" fill="#2f6a3c"/>
<circle cx="67" cy="283.8" r="1.05" fill="#2f6a3c"/>
<circle cx="67.4" cy="288.6" r="1.05" fill="#2f6a3c"/>
<circle cx="71" cy="248.3" r="1.05" fill="#2f6a3c"/>
<circle cx="71.9" cy="242.9" r="1.05" fill="#2f6a3c"/>
<circle cx="73.2" cy="208.6" r="1.05" fill="#2f6a3c"/>
<circle cx="74.7" cy="248.3" r="1.05" fill="#2f6a3c"/>
<circle cx="79" cy="265.5" r="1.05" fill="#2f6a3c"/>
<circle cx="81.8" cy="274" r="1.05" fill="#2f6a3c"/>
<circle cx="86.5" cy="285.8" r="1.05" fill="#2f6a3c"/>
<circle cx="97.2" cy="283.3" r="1.05" fill="#2f6a3c"/>
<circle cx="112.3" cy="275.5" r="1.05" fill="#2f6a3c"/>
<circle cx="112.3" cy="257.5" r="1.05" fill="#2f6a3c"/>
<circle cx="119.8" cy="262.7" r="1.05" fill="#2f6a3c"/>
<circle cx="119.8" cy="243.3" r="1.05" fill="#2f6a3c"/>
<circle cx="127.3" cy="257.5" r="1.05" fill="#2f6a3c"/>
<circle cx="127.3" cy="243.3" r="1.05" fill="#2f6a3c"/>
<circle cx="142" cy="255" r="1.05" fill="#2f6a3c"/>
<circle cx="160.5" cy="240.5" r="1.05" fill="#2f6a3c"/>
<circle cx="189" cy="284.5" r="1.05" fill="#2f6a3c"/>
<circle cx="189" cy="261.3" r="1.05" fill="#2f6a3c"/>
<circle cx="215.5" cy="288" r="1.05" fill="#2f6a3c"/>
<rect x="71.05" y="343.25" width="2.9" height="2.9" fill="#981a26"/>
<text x="80.1" y="347.05" font-size="6.5" text-anchor="start" fill="#222" textLength="30.3" lengthAdjust="spacingAndGlyphs" stroke="#222" stroke-width="0.12">Prednisone</text>
<circle cx="116" cy="344.7" r="1.45" fill="#1b2d50"/>
<text x="120.8" y="347.05" font-size="6.5" text-anchor="start" fill="#222" textLength="70" lengthAdjust="spacingAndGlyphs" stroke="#222" stroke-width="0.12">FIX Replacement Therapy</text>
<line x1="68" y1="354" x2="77.7" y2="354" stroke="#f0a852" stroke-width="1"/>
<rect x="71.35" y="352.5" width="3" height="3" fill="#cc8229"/>
<text x="80.1" y="356.35" font-size="6.5" text-anchor="start" fill="#222" textLength="12.5" lengthAdjust="spacingAndGlyphs" stroke="#222" stroke-width="0.12">−FIX</text>
<line x1="95.8" y1="354" x2="105.3" y2="354" stroke="#559a5e" stroke-width="1"/>
<circle cx="100.55" cy="354" r="1.4" fill="#2f6a3c"/>
<text x="107.6" y="356.35" font-size="6.5" text-anchor="start" fill="#222" textLength="14.4" lengthAdjust="spacingAndGlyphs" stroke="#222" stroke-width="0.12">−ALT</text>
<text x="267.4" y="199" font-size="10.8" text-anchor="start" fill="#111" font-weight="bold" stroke="#111" stroke-width="0.35">D</text>
<line x1="296.3" y1="205.4" x2="296.3" y2="312.75" stroke="#1c1c1c" stroke-width="1"/>
<line x1="480.6" y1="205.4" x2="480.6" y2="312.75" stroke="#1c1c1c" stroke-width="1"/>
<line x1="295.85" y1="312.3" x2="481.05" y2="312.3" stroke="#1c1c1c" stroke-width="1"/>
<line x1="293.7" y1="310" x2="296.3" y2="310" stroke="#1c1c1c" stroke-width="1"/>
<text x="0" y="0" font-size="6.3" text-anchor="end" fill="#2a2a2a" transform="translate(290.2 312.45) scale(1 0.9)">0</text>
<line x1="293.7" y1="279.1" x2="296.3" y2="279.1" stroke="#1c1c1c" stroke-width="1"/>
<text x="0" y="0" font-size="6.3" text-anchor="end" fill="#2a2a2a" transform="translate(290.2 281.55) scale(1 0.9)">20</text>
<line x1="293.7" y1="248.2" x2="296.3" y2="248.2" stroke="#1c1c1c" stroke-width="1"/>
<text x="0" y="0" font-size="6.3" text-anchor="end" fill="#2a2a2a" transform="translate(290.2 250.65) scale(1 0.9)">40</text>
<line x1="293.7" y1="217.3" x2="296.3" y2="217.3" stroke="#1c1c1c" stroke-width="1"/>
<text x="0" y="0" font-size="6.3" text-anchor="end" fill="#2a2a2a" transform="translate(290.2 219.75) scale(1 0.9)">60</text>
<line x1="480.6" y1="310.4" x2="483.2" y2="310.4" stroke="#1c1c1c" stroke-width="1"/>
<text x="0" y="0" font-size="6.3" text-anchor="start" fill="#2a2a2a" transform="translate(487 312.85) scale(1 0.9)">0</text>
<line x1="480.6" y1="280.1" x2="483.2" y2="280.1" stroke="#1c1c1c" stroke-width="1"/>
<text x="0" y="0" font-size="6.3" text-anchor="start" fill="#2a2a2a" transform="translate(487 282.55) scale(1 0.9)">20</text>
<line x1="480.6" y1="249.8" x2="483.2" y2="249.8" stroke="#1c1c1c" stroke-width="1"/>
<text x="0" y="0" font-size="6.3" text-anchor="start" fill="#2a2a2a" transform="translate(487 252.25) scale(1 0.9)">40</text>
<line x1="480.6" y1="219.5" x2="483.2" y2="219.5" stroke="#1c1c1c" stroke-width="1"/>
<text x="0" y="0" font-size="6.3" text-anchor="start" fill="#2a2a2a" transform="translate(487 221.95) scale(1 0.9)">60</text>
<line x1="298.5" y1="312.3" x2="298.5" y2="314.9" stroke="#1c1c1c" stroke-width="1"/>
<text x="0" y="0" font-size="6.3" text-anchor="middle" fill="#2a2a2a" transform="translate(298.5 324.15) scale(1 0.9)">0</text>
<line x1="332.6" y1="312.3" x2="332.6" y2="314.9" stroke="#1c1c1c" stroke-width="1"/>
<text x="0" y="0" font-size="6.3" text-anchor="middle" fill="#2a2a2a" transform="translate(332.6 324.15) scale(1 0.9)">10</text>
<line x1="366.7" y1="312.3" x2="366.7" y2="314.9" stroke="#1c1c1c" stroke-width="1"/>
<text x="0" y="0" font-size="6.3" text-anchor="middle" fill="#2a2a2a" transform="translate(366.7 324.15) scale(1 0.9)">20</text>
<line x1="400.8" y1="312.3" x2="400.8" y2="314.9" stroke="#1c1c1c" stroke-width="1"/>
<text x="0" y="0" font-size="6.3" text-anchor="middle" fill="#2a2a2a" transform="translate(400.8 324.15) scale(1 0.9)">30</text>
<line x1="434.9" y1="312.3" x2="434.9" y2="314.9" stroke="#1c1c1c" stroke-width="1"/>
<text x="0" y="0" font-size="6.3" text-anchor="middle" fill="#2a2a2a" transform="translate(434.9 324.15) scale(1 0.9)">40</text>
<line x1="469" y1="312.3" x2="469" y2="314.9" stroke="#1c1c1c" stroke-width="1"/>
<text x="0" y="0" font-size="6.3" text-anchor="middle" fill="#2a2a2a" transform="translate(469 324.15) scale(1 0.9)">50</text>
<text x="277.7" y="258.6" font-size="7.2" text-anchor="middle" fill="#1e1e1e" textLength="82.2" lengthAdjust="spacingAndGlyphs" transform="rotate(-90 277.7 258.6)" stroke="#1e1e1e" stroke-width="0.3">Factor IX activity (% of normal)</text>
<text x="504.9" y="258.45" font-size="7.2" text-anchor="middle" fill="#1e1e1e" textLength="88.5" lengthAdjust="spacingAndGlyphs" transform="rotate(-90 504.9 258.45)" stroke="#1e1e1e" stroke-width="0.3">Alanine aminotransferase (U/liter)</text>
<text x="388.65" y="336.3" font-size="8.2" text-anchor="middle" fill="#1e1e1e" font-weight="bold" textLength="17.3" lengthAdjust="spacingAndGlyphs">Weeks</text>
<circle cx="298.1" cy="308.5" r="1" fill="#1d3b70"/>
<circle cx="299.6" cy="308.5" r="1" fill="#1d3b70"/>
<circle cx="301.1" cy="308.5" r="1" fill="#1d3b70"/>
<circle cx="302.6" cy="308.5" r="1" fill="#1d3b70"/>
<circle cx="304.1" cy="308.5" r="1" fill="#1d3b70"/>
<circle cx="305.6" cy="308.5" r="1" fill="#1d3b70"/>
<circle cx="307.1" cy="308.5" r="1" fill="#1d3b70"/>
<circle cx="308.6" cy="308.5" r="1" fill="#1d3b70"/>
<circle cx="310.1" cy="308.5" r="1" fill="#1d3b70"/>
<circle cx="311.6" cy="308.5" r="1" fill="#1d3b70"/>
<circle cx="313.1" cy="308.5" r="1" fill="#1d3b70"/>
<circle cx="314.6" cy="308.5" r="1" fill="#1d3b70"/>
<circle cx="317.9" cy="308.5" r="1" fill="#1d3b70"/>
<circle cx="319.55" cy="308.5" r="1" fill="#1d3b70"/>
<circle cx="321.2" cy="308.5" r="1" fill="#1d3b70"/>
<circle cx="326.5" cy="308.5" r="1" fill="#1d3b70"/>
<circle cx="328" cy="308.5" r="1" fill="#1d3b70"/>
<circle cx="329.5" cy="308.5" r="1" fill="#1d3b70"/>
<circle cx="331" cy="308.5" r="1" fill="#1d3b70"/>
<circle cx="332.5" cy="308.5" r="1" fill="#1d3b70"/>
<circle cx="334" cy="308.5" r="1" fill="#1d3b70"/>
<circle cx="335.5" cy="308.5" r="1" fill="#1d3b70"/>
<circle cx="337" cy="308.5" r="1" fill="#1d3b70"/>
<circle cx="338.5" cy="308.5" r="1" fill="#1d3b70"/>
<circle cx="340" cy="308.5" r="1" fill="#1d3b70"/>
<circle cx="341.5" cy="308.5" r="1" fill="#1d3b70"/>
<circle cx="343" cy="308.5" r="1" fill="#1d3b70"/>
<circle cx="344.5" cy="308.5" r="1" fill="#1d3b70"/>
<circle cx="346" cy="308.5" r="1" fill="#1d3b70"/>
<circle cx="347.5" cy="308.5" r="1" fill="#1d3b70"/>
<circle cx="349" cy="308.5" r="1" fill="#1d3b70"/>
<circle cx="350.5" cy="308.5" r="1" fill="#1d3b70"/>
<circle cx="352" cy="308.5" r="1" fill="#1d3b70"/>
<circle cx="353.5" cy="308.5" r="1" fill="#1d3b70"/>
<circle cx="355.4" cy="308.5" r="1" fill="#1d3b70"/>
<circle cx="358.3" cy="308.5" r="1" fill="#1d3b70"/>
<circle cx="361.2" cy="308.5" r="1" fill="#1d3b70"/>
<circle cx="364" cy="308.5" r="1" fill="#1d3b70"/>
<circle cx="366.9" cy="308.5" r="1" fill="#1d3b70"/>
<circle cx="369.8" cy="308.5" r="1" fill="#1d3b70"/>
<circle cx="372.7" cy="308.5" r="1" fill="#1d3b70"/>
<circle cx="375.6" cy="308.5" r="1" fill="#1d3b70"/>
<circle cx="378.5" cy="308.5" r="1" fill="#1d3b70"/>
<circle cx="381.3" cy="308.5" r="1" fill="#1d3b70"/>
<circle cx="384.2" cy="308.5" r="1" fill="#1d3b70"/>
<circle cx="385.9" cy="308.5" r="1" fill="#1d3b70"/>
<circle cx="387.53" cy="308.5" r="1" fill="#1d3b70"/>
<circle cx="389.17" cy="308.5" r="1" fill="#1d3b70"/>
<circle cx="390.8" cy="308.5" r="1" fill="#1d3b70"/>
<circle cx="392.7" cy="308.5" r="1" fill="#1d3b70"/>
<circle cx="394.23" cy="308.5" r="1" fill="#1d3b70"/>
<circle cx="395.76" cy="308.5" r="1" fill="#1d3b70"/>
<circle cx="397.29" cy="308.5" r="1" fill="#1d3b70"/>
<circle cx="398.82" cy="308.5" r="1" fill="#1d3b70"/>
<circle cx="400.35" cy="308.5" r="1" fill="#1d3b70"/>
<circle cx="401.88" cy="308.5" r="1" fill="#1d3b70"/>
<circle cx="403.41" cy="308.5" r="1" fill="#1d3b70"/>
<circle cx="404.94" cy="308.5" r="1" fill="#1d3b70"/>
<circle cx="406.47" cy="308.5" r="1" fill="#1d3b70"/>
<circle cx="408" cy="308.5" r="1" fill="#1d3b70"/>
<circle cx="411" cy="308.5" r="1" fill="#1d3b70"/>
<circle cx="413.8" cy="308.5" r="1" fill="#1d3b70"/>
<circle cx="416.8" cy="308.5" r="1" fill="#1d3b70"/>
<circle cx="418.37" cy="308.5" r="1" fill="#1d3b70"/>
<circle cx="419.93" cy="308.5" r="1" fill="#1d3b70"/>
<circle cx="421.5" cy="308.5" r="1" fill="#1d3b70"/>
<circle cx="424.4" cy="308.5" r="1" fill="#1d3b70"/>
<circle cx="428.3" cy="308.5" r="1" fill="#1d3b70"/>
<circle cx="429.79" cy="308.5" r="1" fill="#1d3b70"/>
<circle cx="431.28" cy="308.5" r="1" fill="#1d3b70"/>
<circle cx="432.77" cy="308.5" r="1" fill="#1d3b70"/>
<circle cx="434.27" cy="308.5" r="1" fill="#1d3b70"/>
<circle cx="435.76" cy="308.5" r="1" fill="#1d3b70"/>
<circle cx="437.25" cy="308.5" r="1" fill="#1d3b70"/>
<circle cx="438.74" cy="308.5" r="1" fill="#1d3b70"/>
<circle cx="440.23" cy="308.5" r="1" fill="#1d3b70"/>
<circle cx="441.73" cy="308.5" r="1" fill="#1d3b70"/>
<circle cx="443.22" cy="308.5" r="1" fill="#1d3b70"/>
<circle cx="444.71" cy="308.5" r="1" fill="#1d3b70"/>
<circle cx="446.2" cy="308.5" r="1" fill="#1d3b70"/>
<circle cx="448.5" cy="308.5" r="1" fill="#1d3b70"/>
<circle cx="450" cy="308.5" r="1" fill="#1d3b70"/>
<circle cx="451.5" cy="308.5" r="1" fill="#1d3b70"/>
<circle cx="453" cy="308.5" r="1" fill="#1d3b70"/>
<circle cx="454.5" cy="308.5" r="1" fill="#1d3b70"/>
<circle cx="456" cy="308.5" r="1" fill="#1d3b70"/>
<circle cx="457.5" cy="308.5" r="1" fill="#1d3b70"/>
<circle cx="459" cy="308.5" r="1" fill="#1d3b70"/>
<circle cx="461" cy="308.5" r="1" fill="#1d3b70"/>
<circle cx="462.53" cy="308.5" r="1" fill="#1d3b70"/>
<circle cx="464.06" cy="308.5" r="1" fill="#1d3b70"/>
<circle cx="465.59" cy="308.5" r="1" fill="#1d3b70"/>
<circle cx="467.12" cy="308.5" r="1" fill="#1d3b70"/>
<circle cx="468.65" cy="308.5" r="1" fill="#1d3b70"/>
<circle cx="470.18" cy="308.5" r="1" fill="#1d3b70"/>
<circle cx="471.71" cy="308.5" r="1" fill="#1d3b70"/>
<circle cx="473.24" cy="308.5" r="1" fill="#1d3b70"/>
<circle cx="474.77" cy="308.5" r="1" fill="#1d3b70"/>
<circle cx="476.3" cy="308.5" r="1" fill="#1d3b70"/>
<circle cx="479.2" cy="308.5" r="1" fill="#1d3b70"/>
<polyline fill="none" stroke="#f0a852" stroke-width="0.75" stroke-linejoin="round" points="298.5,255.5 305.7,282.3 312.8,280.5 318.6,302.5 325.3,304 332.1,262.2 338.8,279.4 354.9,292.8 366.5,272.7 380.8,304 394.9,279.2 408.9,271.4 421.4,303.9 434.4,240.3 449.9,283.6 462.4,206.5 480.6,303.9"/>
<rect x="297.55" y="254.55" width="1.9" height="1.9" fill="#cc8229"/>
<rect x="304.75" y="281.35" width="1.9" height="1.9" fill="#cc8229"/>
<rect x="311.85" y="279.55" width="1.9" height="1.9" fill="#cc8229"/>
<rect x="317.65" y="301.55" width="1.9" height="1.9" fill="#cc8229"/>
<rect x="324.35" y="303.05" width="1.9" height="1.9" fill="#cc8229"/>
<rect x="331.15" y="261.25" width="1.9" height="1.9" fill="#cc8229"/>
<rect x="337.85" y="278.45" width="1.9" height="1.9" fill="#cc8229"/>
<rect x="353.95" y="291.85" width="1.9" height="1.9" fill="#cc8229"/>
<rect x="365.55" y="271.75" width="1.9" height="1.9" fill="#cc8229"/>
<rect x="379.85" y="303.05" width="1.9" height="1.9" fill="#cc8229"/>
<rect x="393.95" y="278.25" width="1.9" height="1.9" fill="#cc8229"/>
<rect x="407.95" y="270.45" width="1.9" height="1.9" fill="#cc8229"/>
<rect x="420.45" y="302.95" width="1.9" height="1.9" fill="#cc8229"/>
<rect x="433.45" y="239.35" width="1.9" height="1.9" fill="#cc8229"/>
<rect x="448.95" y="282.65" width="1.9" height="1.9" fill="#cc8229"/>
<rect x="461.45" y="205.55" width="1.9" height="1.9" fill="#cc8229"/>
<rect x="479.65" y="302.95" width="1.9" height="1.9" fill="#cc8229"/>
<polyline fill="none" stroke="#559a5e" stroke-width="0.75" stroke-linejoin="round" points="298.5,279.4 298.5,276 300.1,272 302.3,273.8 305.7,261.5 307.4,260.9 308.3,249.2 310.6,269.4 312.4,267.6 314.6,267.1 315.7,264.9 317.3,269.8 318.6,275 320.2,273.8 323.1,270.5 325.3,273.4 327.6,271.6 329.8,267.1 332.1,219 335.9,272.7 338.1,279.4 340.3,279.4 354.9,266 366.5,251 370.1,247 373.2,244.7 376.8,206.7 380.6,250.3 394.9,268.8 408.9,265.5 421.4,272.2 434.4,279.7 449.9,279.7 455.1,279.7 462.4,279.7 480.6,279.7"/>
<circle cx="298.5" cy="279.4" r="1.05" fill="#2f6a3c"/>
<circle cx="298.5" cy="276" r="1.05" fill="#2f6a3c"/>
<circle cx="300.1" cy="272" r="1.05" fill="#2f6a3c"/>
<circle cx="302.3" cy="273.8" r="1.05" fill="#2f6a3c"/>
<circle cx="305.7" cy="261.5" r="1.05" fill="#2f6a3c"/>
<circle cx="307.4" cy="260.9" r="1.05" fill="#2f6a3c"/>
<circle cx="308.3" cy="249.2" r="1.05" fill="#2f6a3c"/>
<circle cx="310.6" cy="269.4" r="1.05" fill="#2f6a3c"/>
<circle cx="312.4" cy="267.6" r="1.05" fill="#2f6a3c"/>
<circle cx="314.6" cy="267.1" r="1.05" fill="#2f6a3c"/>
<circle cx="315.7" cy="264.9" r="1.05" fill="#2f6a3c"/>
<circle cx="317.3" cy="269.8" r="1.05" fill="#2f6a3c"/>
<circle cx="318.6" cy="275" r="1.05" fill="#2f6a3c"/>
<circle cx="320.2" cy="273.8" r="1.05" fill="#2f6a3c"/>
<circle cx="323.1" cy="270.5" r="1.05" fill="#2f6a3c"/>
<circle cx="325.3" cy="273.4" r="1.05" fill="#2f6a3c"/>
<circle cx="327.6" cy="271.6" r="1.05" fill="#2f6a3c"/>
<circle cx="329.8" cy="267.1" r="1.05" fill="#2f6a3c"/>
<circle cx="332.1" cy="219" r="1.05" fill="#2f6a3c"/>
<circle cx="335.9" cy="272.7" r="1.05" fill="#2f6a3c"/>
<circle cx="338.1" cy="279.4" r="1.05" fill="#2f6a3c"/>
<circle cx="340.3" cy="279.4" r="1.05" fill="#2f6a3c"/>
<circle cx="354.9" cy="266" r="1.05" fill="#2f6a3c"/>
<circle cx="366.5" cy="251" r="1.05" fill="#2f6a3c"/>
<circle cx="370.1" cy="247" r="1.05" fill="#2f6a3c"/>
<circle cx="373.2" cy="244.7" r="1.05" fill="#2f6a3c"/>
<circle cx="376.8" cy="206.7" r="1.05" fill="#2f6a3c"/>
<circle cx="380.6" cy="250.3" r="1.05" fill="#2f6a3c"/>
<circle cx="394.9" cy="268.8" r="1.05" fill="#2f6a3c"/>
<circle cx="408.9" cy="265.5" r="1.05" fill="#2f6a3c"/>
<circle cx="421.4" cy="272.2" r="1.05" fill="#2f6a3c"/>
<circle cx="434.4" cy="279.7" r="1.05" fill="#2f6a3c"/>
<circle cx="449.9" cy="279.7" r="1.05" fill="#2f6a3c"/>
<circle cx="455.1" cy="279.7" r="1.05" fill="#2f6a3c"/>
<circle cx="462.4" cy="279.7" r="1.05" fill="#2f6a3c"/>
<circle cx="480.6" cy="279.7" r="1.05" fill="#2f6a3c"/>
<circle cx="323" cy="345" r="1.45" fill="#1b2d50"/>
<text x="327.3" y="347.35" font-size="6.5" text-anchor="start" fill="#222" textLength="70" lengthAdjust="spacingAndGlyphs" stroke="#222" stroke-width="0.12">FIX Replacement Therapy</text>
<line x1="401" y1="345" x2="410.8" y2="345" stroke="#f0a852" stroke-width="1"/>
<rect x="404.4" y="343.5" width="3" height="3" fill="#cc8229"/>
<text x="413.4" y="347.35" font-size="6.5" text-anchor="start" fill="#222" textLength="12.8" lengthAdjust="spacingAndGlyphs" stroke="#222" stroke-width="0.12">−FIX</text>
<line x1="428.8" y1="345" x2="437.8" y2="345" stroke="#559a5e" stroke-width="1"/>
<circle cx="433.3" cy="345" r="1.4" fill="#2f6a3c"/>
<text x="440.9" y="347.35" font-size="6.5" text-anchor="start" fill="#222" textLength="14.7" lengthAdjust="spacingAndGlyphs" stroke="#222" stroke-width="0.12">−ALT</text>
<text x="7" y="380.2" font-size="10.8" text-anchor="start" fill="#111" font-weight="bold" stroke="#111" stroke-width="0.35">E</text>
<line x1="34.9" y1="386.5" x2="34.9" y2="494.25" stroke="#1c1c1c" stroke-width="1"/>
<line x1="219.5" y1="386.5" x2="219.5" y2="494.25" stroke="#1c1c1c" stroke-width="1"/>
<line x1="34.45" y1="493.8" x2="219.95" y2="493.8" stroke="#1c1c1c" stroke-width="1"/>
<line x1="32.3" y1="478.3" x2="34.9" y2="478.3" stroke="#1c1c1c" stroke-width="1"/>
<text x="0" y="0" font-size="6.3" text-anchor="end" fill="#2a2a2a" transform="translate(28.8 480.75) scale(1 0.9)">5</text>
<line x1="32.3" y1="457.85" x2="34.9" y2="457.85" stroke="#1c1c1c" stroke-width="1"/>
<text x="0" y="0" font-size="6.3" text-anchor="end" fill="#2a2a2a" transform="translate(28.8 460.3) scale(1 0.9)">10</text>
<line x1="32.3" y1="437.4" x2="34.9" y2="437.4" stroke="#1c1c1c" stroke-width="1"/>
<text x="0" y="0" font-size="6.3" text-anchor="end" fill="#2a2a2a" transform="translate(28.8 439.85) scale(1 0.9)">15</text>
<line x1="32.3" y1="416.95" x2="34.9" y2="416.95" stroke="#35357a" stroke-width="1"/>
<text x="0" y="0" font-size="6.3" text-anchor="end" fill="#2a2a2a" transform="translate(28.8 419.4) scale(1 0.9)">20</text>
<line x1="32.3" y1="396.5" x2="34.9" y2="396.5" stroke="#1c1c1c" stroke-width="1"/>
<text x="0" y="0" font-size="6.3" text-anchor="end" fill="#2a2a2a" transform="translate(28.8 398.95) scale(1 0.9)">25</text>
<line x1="219.5" y1="491.5" x2="222.1" y2="491.5" stroke="#1c1c1c" stroke-width="1"/>
<text x="0" y="0" font-size="6.3" text-anchor="start" fill="#2a2a2a" transform="translate(225.9 493.95) scale(1 0.9)">0</text>
<line x1="219.5" y1="460.25" x2="222.1" y2="460.25" stroke="#1c1c1c" stroke-width="1"/>
<text x="0" y="0" font-size="6.3" text-anchor="start" fill="#2a2a2a" transform="translate(225.9 462.7) scale(1 0.9)">20</text>
<line x1="219.5" y1="429" x2="222.1" y2="429" stroke="#1c1c1c" stroke-width="1"/>
<text x="0" y="0" font-size="6.3" text-anchor="start" fill="#2a2a2a" transform="translate(225.9 431.45) scale(1 0.9)">40</text>
<line x1="219.5" y1="397.75" x2="222.1" y2="397.75" stroke="#1c1c1c" stroke-width="1"/>
<text x="0" y="0" font-size="6.3" text-anchor="start" fill="#2a2a2a" transform="translate(225.9 400.2) scale(1 0.9)">60</text>
<line x1="36.5" y1="493.8" x2="36.5" y2="496.4" stroke="#1c1c1c" stroke-width="1"/>
<text x="0" y="0" font-size="6.3" text-anchor="middle" fill="#2a2a2a" transform="translate(36.5 505.85) scale(1 0.9)">0</text>
<line x1="78" y1="493.8" x2="78" y2="496.4" stroke="#1c1c1c" stroke-width="1"/>
<text x="0" y="0" font-size="6.3" text-anchor="middle" fill="#2a2a2a" transform="translate(78 505.85) scale(1 0.9)">10</text>
<line x1="119.5" y1="493.8" x2="119.5" y2="496.4" stroke="#1c1c1c" stroke-width="1"/>
<text x="0" y="0" font-size="6.3" text-anchor="middle" fill="#2a2a2a" transform="translate(119.5 505.85) scale(1 0.9)">20</text>
<line x1="161" y1="493.8" x2="161" y2="496.4" stroke="#1c1c1c" stroke-width="1"/>
<text x="0" y="0" font-size="6.3" text-anchor="middle" fill="#2a2a2a" transform="translate(161 505.85) scale(1 0.9)">30</text>
<line x1="202.5" y1="493.8" x2="202.5" y2="496.4" stroke="#1c1c1c" stroke-width="1"/>
<text x="0" y="0" font-size="6.3" text-anchor="middle" fill="#2a2a2a" transform="translate(202.5 505.85) scale(1 0.9)">40</text>
<text x="15.8" y="440.1" font-size="7.2" text-anchor="middle" fill="#1e1e1e" textLength="82.2" lengthAdjust="spacingAndGlyphs" transform="rotate(-90 15.8 440.1)" stroke="#1e1e1e" stroke-width="0.3">Factor IX activity (% of normal)</text>
<text x="243.5" y="439.75" font-size="7.2" text-anchor="middle" fill="#1e1e1e" textLength="88.5" lengthAdjust="spacingAndGlyphs" transform="rotate(-90 243.5 439.75)" stroke="#1e1e1e" stroke-width="0.3">Alanine aminotransferase (U/liter)</text>
<text x="127.1" y="517.1" font-size="8.2" text-anchor="middle" fill="#1e1e1e" font-weight="bold" textLength="16.6" lengthAdjust="spacingAndGlyphs">Weeks</text>
<circle cx="37.3" cy="489.7" r="1" fill="#1d3b70"/>
<circle cx="38.78" cy="489.7" r="1" fill="#1d3b70"/>
<circle cx="40.25" cy="489.7" r="1" fill="#1d3b70"/>
<circle cx="41.73" cy="489.7" r="1" fill="#1d3b70"/>
<circle cx="43.21" cy="489.7" r="1" fill="#1d3b70"/>
<circle cx="44.68" cy="489.7" r="1" fill="#1d3b70"/>
<circle cx="46.16" cy="489.7" r="1" fill="#1d3b70"/>
<circle cx="47.64" cy="489.7" r="1" fill="#1d3b70"/>
<circle cx="49.12" cy="489.7" r="1" fill="#1d3b70"/>
<circle cx="50.59" cy="489.7" r="1" fill="#1d3b70"/>
<circle cx="52.07" cy="489.7" r="1" fill="#1d3b70"/>
<circle cx="53.55" cy="489.7" r="1" fill="#1d3b70"/>
<circle cx="55.02" cy="489.7" r="1" fill="#1d3b70"/>
<circle cx="56.5" cy="489.7" r="1" fill="#1d3b70"/>
<circle cx="61.5" cy="489.7" r="1" fill="#1d3b70"/>
<circle cx="100.3" cy="489.7" r="1" fill="#1d3b70"/>
<circle cx="156.7" cy="489.7" r="1" fill="#1d3b70"/>
<circle cx="164.2" cy="489.7" r="1" fill="#1d3b70"/>
<circle cx="167" cy="489.7" r="1" fill="#1d3b70"/>
<circle cx="168.5" cy="489.7" r="1" fill="#1d3b70"/>
<circle cx="170" cy="489.7" r="1" fill="#1d3b70"/>
<circle cx="171.5" cy="489.7" r="1" fill="#1d3b70"/>
<circle cx="173" cy="489.7" r="1" fill="#1d3b70"/>
<circle cx="174.5" cy="489.7" r="1" fill="#1d3b70"/>
<circle cx="176" cy="489.7" r="1" fill="#1d3b70"/>
<circle cx="189.8" cy="489.7" r="1" fill="#1d3b70"/>
<circle cx="193.6" cy="489.7" r="1" fill="#1d3b70"/>
<circle cx="196.9" cy="489.7" r="1" fill="#1d3b70"/>
<circle cx="200.1" cy="489.7" r="1" fill="#1d3b70"/>
<circle cx="203.4" cy="489.7" r="1" fill="#1d3b70"/>
<circle cx="206.7" cy="489.7" r="1" fill="#1d3b70"/>
<circle cx="209.9" cy="489.7" r="1" fill="#1d3b70"/>
<circle cx="213.2" cy="489.7" r="1" fill="#1d3b70"/>
<circle cx="215.5" cy="489.7" r="1" fill="#1d3b70"/>
<circle cx="217.1" cy="489.7" r="1" fill="#1d3b70"/>
<polyline fill="none" stroke="#f0a852" stroke-width="0.75" stroke-linejoin="round" points="36.3,425.2 46.1,416.2 54.6,388.5 61.8,433.7 61.8,428.8 70.3,416.2 78.1,455.6 78.1,462.3 86.4,466.1 86.4,469.9 95.3,460.1 103.8,457.2 119.5,465.5 137,474.5 139.5,475 139.5,479.5 142,479.5 152.6,490.3 169.7,450.5 169.7,453.5 176.7,477.4 177.9,425.1 178.7,459 180.6,471.4 182.7,478.4 188.7,489.8 203,465.5 203,460 219.5,400"/>
<rect x="35.35" y="424.25" width="1.9" height="1.9" fill="#cc8229"/>
<rect x="45.15" y="415.25" width="1.9" height="1.9" fill="#cc8229"/>
<rect x="53.65" y="387.55" width="1.9" height="1.9" fill="#cc8229"/>
<rect x="60.85" y="432.75" width="1.9" height="1.9" fill="#cc8229"/>
<rect x="60.85" y="427.85" width="1.9" height="1.9" fill="#cc8229"/>
<rect x="69.35" y="415.25" width="1.9" height="1.9" fill="#cc8229"/>
<rect x="77.15" y="454.65" width="1.9" height="1.9" fill="#cc8229"/>
<rect x="77.15" y="461.35" width="1.9" height="1.9" fill="#cc8229"/>
<rect x="85.45" y="465.15" width="1.9" height="1.9" fill="#cc8229"/>
<rect x="85.45" y="468.95" width="1.9" height="1.9" fill="#cc8229"/>
<rect x="94.35" y="459.15" width="1.9" height="1.9" fill="#cc8229"/>
<rect x="102.85" y="456.25" width="1.9" height="1.9" fill="#cc8229"/>
<rect x="118.55" y="464.55" width="1.9" height="1.9" fill="#cc8229"/>
<rect x="136.05" y="473.55" width="1.9" height="1.9" fill="#cc8229"/>
<rect x="138.55" y="474.05" width="1.9" height="1.9" fill="#cc8229"/>
<rect x="138.55" y="478.55" width="1.9" height="1.9" fill="#cc8229"/>
<rect x="141.05" y="478.55" width="1.9" height="1.9" fill="#cc8229"/>
<rect x="151.65" y="489.35" width="1.9" height="1.9" fill="#cc8229"/>
<rect x="168.75" y="449.55" width="1.9" height="1.9" fill="#cc8229"/>
<rect x="168.75" y="452.55" width="1.9" height="1.9" fill="#cc8229"/>
<rect x="175.75" y="476.45" width="1.9" height="1.9" fill="#cc8229"/>
<rect x="176.95" y="424.15" width="1.9" height="1.9" fill="#cc8229"/>
<rect x="177.75" y="458.05" width="1.9" height="1.9" fill="#cc8229"/>
<rect x="179.65" y="470.45" width="1.9" height="1.9" fill="#cc8229"/>
<rect x="181.75" y="477.45" width="1.9" height="1.9" fill="#cc8229"/>
<rect x="187.75" y="488.85" width="1.9" height="1.9" fill="#cc8229"/>
<rect x="202.05" y="464.55" width="1.9" height="1.9" fill="#cc8229"/>
<rect x="202.05" y="459.05" width="1.9" height="1.9" fill="#cc8229"/>
<rect x="218.55" y="399.05" width="1.9" height="1.9" fill="#cc8229"/>
<polyline fill="none" stroke="#559a5e" stroke-width="0.75" stroke-linejoin="round" points="36.3,453.4 37.2,457.2 40.1,464.6 46.1,464.6 49,462.8 51.3,465.5 54.2,467.7 56.4,462.8 58.6,444.4 61.8,436.4 68,448.9 70.3,436.4 70.3,433.2 72.5,419.1 74.7,394.5 77.4,397.9 78.8,388.5 78.8,395.7 84.1,430.3 86.4,438.6 86.4,442.6 95.3,444.4 103.8,438.6 103.8,434.8 119.5,438.2 119.5,434.8 136.3,412 138.8,408.8 139.3,396.3 142,390 152.5,402.5 153,405 169.7,432.2 169.7,436.6 189.1,454.1 203,447.5 219.5,440"/>
<circle cx="36.3" cy="453.4" r="1.05" fill="#2f6a3c"/>
<circle cx="37.2" cy="457.2" r="1.05" fill="#2f6a3c"/>
<circle cx="40.1" cy="464.6" r="1.05" fill="#2f6a3c"/>
<circle cx="46.1" cy="464.6" r="1.05" fill="#2f6a3c"/>
<circle cx="49" cy="462.8" r="1.05" fill="#2f6a3c"/>
<circle cx="51.3" cy="465.5" r="1.05" fill="#2f6a3c"/>
<circle cx="54.2" cy="467.7" r="1.05" fill="#2f6a3c"/>
<circle cx="56.4" cy="462.8" r="1.05" fill="#2f6a3c"/>
<circle cx="58.6" cy="444.4" r="1.05" fill="#2f6a3c"/>
<circle cx="61.8" cy="436.4" r="1.05" fill="#2f6a3c"/>
<circle cx="68" cy="448.9" r="1.05" fill="#2f6a3c"/>
<circle cx="70.3" cy="436.4" r="1.05" fill="#2f6a3c"/>
<circle cx="70.3" cy="433.2" r="1.05" fill="#2f6a3c"/>
<circle cx="72.5" cy="419.1" r="1.05" fill="#2f6a3c"/>
<circle cx="74.7" cy="394.5" r="1.05" fill="#2f6a3c"/>
<circle cx="77.4" cy="397.9" r="1.05" fill="#2f6a3c"/>
<circle cx="78.8" cy="388.5" r="1.05" fill="#2f6a3c"/>
<circle cx="78.8" cy="395.7" r="1.05" fill="#2f6a3c"/>
<circle cx="84.1" cy="430.3" r="1.05" fill="#2f6a3c"/>
<circle cx="86.4" cy="438.6" r="1.05" fill="#2f6a3c"/>
<circle cx="86.4" cy="442.6" r="1.05" fill="#2f6a3c"/>
<circle cx="95.3" cy="444.4" r="1.05" fill="#2f6a3c"/>
<circle cx="103.8" cy="438.6" r="1.05" fill="#2f6a3c"/>
<circle cx="103.8" cy="434.8" r="1.05" fill="#2f6a3c"/>
<circle cx="119.5" cy="438.2" r="1.05" fill="#2f6a3c"/>
<circle cx="119.5" cy="434.8" r="1.05" fill="#2f6a3c"/>
<circle cx="136.3" cy="412" r="1.05" fill="#2f6a3c"/>
<circle cx="138.8" cy="408.8" r="1.05" fill="#2f6a3c"/>
<circle cx="139.3" cy="396.3" r="1.05" fill="#2f6a3c"/>
<circle cx="142" cy="390" r="1.05" fill="#2f6a3c"/>
<circle cx="152.5" cy="402.5" r="1.05" fill="#2f6a3c"/>
<circle cx="153" cy="405" r="1.05" fill="#2f6a3c"/>
<circle cx="169.7" cy="432.2" r="1.05" fill="#2f6a3c"/>
<circle cx="169.7" cy="436.6" r="1.05" fill="#2f6a3c"/>
<circle cx="189.1" cy="454.1" r="1.05" fill="#2f6a3c"/>
<circle cx="203" cy="447.5" r="1.05" fill="#2f6a3c"/>
<circle cx="219.5" cy="440" r="1.05" fill="#2f6a3c"/>
<circle cx="61.5" cy="525.6" r="1.45" fill="#1b2d50"/>
<text x="66.2" y="527.95" font-size="6.5" text-anchor="start" fill="#222" textLength="70.3" lengthAdjust="spacingAndGlyphs" stroke="#222" stroke-width="0.12">FIX Replacement Therapy</text>
<line x1="140" y1="525.5" x2="148.3" y2="525.5" stroke="#f0a852" stroke-width="1"/>
<rect x="142.65" y="524" width="3" height="3" fill="#cc8229"/>
<text x="151.4" y="527.85" font-size="6.5" text-anchor="start" fill="#222" textLength="12.2" lengthAdjust="spacingAndGlyphs" stroke="#222" stroke-width="0.12">−FIX</text>
<line x1="167" y1="525.5" x2="176.5" y2="525.5" stroke="#559a5e" stroke-width="1"/>
<circle cx="171.75" cy="525.5" r="1.4" fill="#2f6a3c"/>
<text x="179.6" y="527.85" font-size="6.5" text-anchor="start" fill="#222" textLength="14" lengthAdjust="spacingAndGlyphs" stroke="#222" stroke-width="0.12">−ALT</text>
<text x="268.6" y="380" font-size="10.8" text-anchor="start" fill="#111" font-weight="bold" stroke="#111" stroke-width="0.35">F</text>
<line x1="296.3" y1="386.5" x2="296.3" y2="493.95" stroke="#1c1c1c" stroke-width="1"/>
<line x1="480.8" y1="385.6" x2="480.8" y2="493.95" stroke="#1c1c1c" stroke-width="1"/>
<line x1="295.85" y1="493.5" x2="481.25" y2="493.5" stroke="#1c1c1c" stroke-width="1"/>
<line x1="293.7" y1="491.2" x2="296.3" y2="491.2" stroke="#1c1c1c" stroke-width="1"/>
<text x="0" y="0" font-size="6.3" text-anchor="end" fill="#2a2a2a" transform="translate(290.2 493.65) scale(1 0.9)">0</text>
<line x1="293.7" y1="457.9" x2="296.3" y2="457.9" stroke="#1c1c1c" stroke-width="1"/>
<text x="0" y="0" font-size="6.3" text-anchor="end" fill="#2a2a2a" transform="translate(290.2 460.35) scale(1 0.9)">10</text>
<line x1="293.7" y1="424.6" x2="296.3" y2="424.6" stroke="#1c1c1c" stroke-width="1"/>
<text x="0" y="0" font-size="6.3" text-anchor="end" fill="#2a2a2a" transform="translate(290.2 427.05) scale(1 0.9)">20</text>
<line x1="293.7" y1="391.3" x2="296.3" y2="391.3" stroke="#1c1c1c" stroke-width="1"/>
<text x="0" y="0" font-size="6.3" text-anchor="end" fill="#2a2a2a" transform="translate(290.2 393.75) scale(1 0.9)">30</text>
<line x1="480.8" y1="491.25" x2="483.4" y2="491.25" stroke="#1c1c1c" stroke-width="1"/>
<text x="0" y="0" font-size="6.3" text-anchor="start" fill="#2a2a2a" transform="translate(487.2 493.7) scale(1 0.9)">0</text>
<line x1="480.8" y1="470.59" x2="483.4" y2="470.59" stroke="#1c1c1c" stroke-width="1"/>
<text x="0" y="0" font-size="6.3" text-anchor="start" fill="#2a2a2a" transform="translate(487.2 473.04) scale(1 0.9)">200</text>
<line x1="480.8" y1="449.93" x2="483.4" y2="449.93" stroke="#1c1c1c" stroke-width="1"/>
<text x="0" y="0" font-size="6.3" text-anchor="start" fill="#2a2a2a" transform="translate(487.2 452.38) scale(1 0.9)">400</text>
<line x1="480.8" y1="429.27" x2="483.4" y2="429.27" stroke="#1c1c1c" stroke-width="1"/>
<text x="0" y="0" font-size="6.3" text-anchor="start" fill="#2a2a2a" transform="translate(487.2 431.72) scale(1 0.9)">600</text>
<line x1="480.8" y1="408.61" x2="483.4" y2="408.61" stroke="#1c1c1c" stroke-width="1"/>
<text x="0" y="0" font-size="6.3" text-anchor="start" fill="#2a2a2a" transform="translate(487.2 411.06) scale(1 0.9)">800</text>
<line x1="480.8" y1="387.95" x2="483.4" y2="387.95" stroke="#1c1c1c" stroke-width="1"/>
<text x="0" y="0" font-size="6.3" text-anchor="start" fill="#2a2a2a" transform="translate(487.2 390.4) scale(1 0.9)">1000</text>
<line x1="298.75" y1="493.5" x2="298.75" y2="496.1" stroke="#1c1c1c" stroke-width="1"/>
<text x="0" y="0" font-size="6.3" text-anchor="middle" fill="#2a2a2a" transform="translate(298.75 505.55) scale(1 0.9)">0</text>
<line x1="340" y1="493.5" x2="340" y2="496.1" stroke="#1c1c1c" stroke-width="1"/>
<text x="0" y="0" font-size="6.3" text-anchor="middle" fill="#2a2a2a" transform="translate(340 505.55) scale(1 0.9)">10</text>
<line x1="381.25" y1="493.5" x2="381.25" y2="496.1" stroke="#1c1c1c" stroke-width="1"/>
<text x="0" y="0" font-size="6.3" text-anchor="middle" fill="#2a2a2a" transform="translate(381.25 505.55) scale(1 0.9)">20</text>
<line x1="422.5" y1="493.5" x2="422.5" y2="496.1" stroke="#1c1c1c" stroke-width="1"/>
<text x="0" y="0" font-size="6.3" text-anchor="middle" fill="#2a2a2a" transform="translate(422.5 505.55) scale(1 0.9)">30</text>
<line x1="463.75" y1="493.5" x2="463.75" y2="496.1" stroke="#1c1c1c" stroke-width="1"/>
<text x="0" y="0" font-size="6.3" text-anchor="middle" fill="#2a2a2a" transform="translate(463.75 505.55) scale(1 0.9)">40</text>
<text x="277.5" y="440.15" font-size="7.2" text-anchor="middle" fill="#1e1e1e" textLength="82.3" lengthAdjust="spacingAndGlyphs" transform="rotate(-90 277.5 440.15)" stroke="#1e1e1e" stroke-width="0.3">Factor IX activity (% of normal)</text>
<text x="512.4" y="439.5" font-size="7.2" text-anchor="middle" fill="#1e1e1e" textLength="89" lengthAdjust="spacingAndGlyphs" transform="rotate(-90 512.4 439.5)" stroke="#1e1e1e" stroke-width="0.3">Alanine aminotransferase (U/liter)</text>
<text x="388.55" y="516.7" font-size="8.2" text-anchor="middle" fill="#1e1e1e" font-weight="bold" textLength="16.9" lengthAdjust="spacingAndGlyphs">Weeks</text>
<circle cx="373" cy="490.8" r="1" fill="#1d3b70"/>
<circle cx="378.8" cy="490.8" r="1" fill="#1d3b70"/>
<circle cx="401.3" cy="490.8" r="1" fill="#1d3b70"/>
<circle cx="406.3" cy="490.8" r="1" fill="#1d3b70"/>
<circle cx="412" cy="490.8" r="1" fill="#1d3b70"/>
<circle cx="416.3" cy="490.8" r="1" fill="#1d3b70"/>
<circle cx="425" cy="490.8" r="1" fill="#1d3b70"/>
<circle cx="432" cy="490.8" r="1" fill="#1d3b70"/>
<circle cx="461.3" cy="490.8" r="1" fill="#1d3b70"/>
<circle cx="462.6" cy="490.8" r="1" fill="#1d3b70"/>
<polyline fill="none" stroke="#f0a852" stroke-width="0.75" stroke-linejoin="round" points="298.5,474.4 306.8,464.6 307.4,461 314.6,448.2 315,440 315.3,431.5 315.7,449.4 318,451.6 320.2,461.7 322.4,470.6 326.9,464.6 330.3,460.5 332.5,470.6 334.7,470.6 337,451.1 339.2,464.6 343.7,454.3 347,461 348.6,467.2 352.6,470.6 353.8,467.7 356.7,467.7 358.2,471.7 361.6,474 363.8,477.3 365.6,471.3 367.9,478 369.5,478 373,478 381.3,464.5 385,481.3 391.3,484.5 400.8,487 418,481.3 425.5,467.5 425.5,448 446.3,441.3 463.3,431.3 463.3,388 480.8,420"/>
<rect x="297.55" y="473.45" width="1.9" height="1.9" fill="#cc8229"/>
<rect x="305.85" y="463.65" width="1.9" height="1.9" fill="#cc8229"/>
<rect x="306.45" y="460.05" width="1.9" height="1.9" fill="#cc8229"/>
<rect x="313.65" y="447.25" width="1.9" height="1.9" fill="#cc8229"/>
<rect x="314.05" y="439.05" width="1.9" height="1.9" fill="#cc8229"/>
<rect x="314.35" y="430.55" width="1.9" height="1.9" fill="#cc8229"/>
<rect x="314.75" y="448.45" width="1.9" height="1.9" fill="#cc8229"/>
<rect x="317.05" y="450.65" width="1.9" height="1.9" fill="#cc8229"/>
<rect x="319.25" y="460.75" width="1.9" height="1.9" fill="#cc8229"/>
<rect x="321.45" y="469.65" width="1.9" height="1.9" fill="#cc8229"/>
<rect x="325.95" y="463.65" width="1.9" height="1.9" fill="#cc8229"/>
<rect x="329.35" y="459.55" width="1.9" height="1.9" fill="#cc8229"/>
<rect x="331.55" y="469.65" width="1.9" height="1.9" fill="#cc8229"/>
<rect x="333.75" y="469.65" width="1.9" height="1.9" fill="#cc8229"/>
<rect x="336.05" y="450.15" width="1.9" height="1.9" fill="#cc8229"/>
<rect x="338.25" y="463.65" width="1.9" height="1.9" fill="#cc8229"/>
<rect x="342.75" y="453.35" width="1.9" height="1.9" fill="#cc8229"/>
<rect x="346.05" y="460.05" width="1.9" height="1.9" fill="#cc8229"/>
<rect x="347.65" y="466.25" width="1.9" height="1.9" fill="#cc8229"/>
<rect x="351.65" y="469.65" width="1.9" height="1.9" fill="#cc8229"/>
<rect x="352.85" y="466.75" width="1.9" height="1.9" fill="#cc8229"/>
<rect x="355.75" y="466.75" width="1.9" height="1.9" fill="#cc8229"/>
<rect x="357.25" y="470.75" width="1.9" height="1.9" fill="#cc8229"/>
<rect x="360.65" y="473.05" width="1.9" height="1.9" fill="#cc8229"/>
<rect x="362.85" y="476.35" width="1.9" height="1.9" fill="#cc8229"/>
<rect x="364.65" y="470.35" width="1.9" height="1.9" fill="#cc8229"/>
<rect x="366.95" y="477.05" width="1.9" height="1.9" fill="#cc8229"/>
<rect x="368.55" y="477.05" width="1.9" height="1.9" fill="#cc8229"/>
<rect x="372.05" y="477.05" width="1.9" height="1.9" fill="#cc8229"/>
<rect x="380.35" y="463.55" width="1.9" height="1.9" fill="#cc8229"/>
<rect x="384.05" y="480.35" width="1.9" height="1.9" fill="#cc8229"/>
<rect x="390.35" y="483.55" width="1.9" height="1.9" fill="#cc8229"/>
<rect x="399.85" y="486.05" width="1.9" height="1.9" fill="#cc8229"/>
<rect x="417.05" y="480.35" width="1.9" height="1.9" fill="#cc8229"/>
<rect x="424.55" y="466.55" width="1.9" height="1.9" fill="#cc8229"/>
<rect x="424.55" y="447.05" width="1.9" height="1.9" fill="#cc8229"/>
<rect x="445.35" y="440.35" width="1.9" height="1.9" fill="#cc8229"/>
<rect x="462.35" y="430.35" width="1.9" height="1.9" fill="#cc8229"/>
<rect x="462.35" y="387.05" width="1.9" height="1.9" fill="#cc8229"/>
<rect x="479.85" y="419.05" width="1.9" height="1.9" fill="#cc8229"/>
<polyline fill="none" stroke="#559a5e" stroke-width="0.75" stroke-linejoin="round" points="298.5,489.2 302.3,489.6 306.8,489.6 310.1,489.6 313,479.6 314.6,428.1 315.7,391.2 316.4,396.8 318,399 320.2,419.1 320.9,425.9 322.4,442.6 323.1,446.7 326.9,423.6 327.6,430.3 330.7,442.6 332.1,449.4 332.5,457.2 333.6,463.9 335.9,468.4 338.1,471.3 340.3,474 344.8,478 347,479.6 349.3,478 353.8,475.7 357.1,478.4 361.1,481.1 363.8,482.5 366.1,484 369.9,483.4 373,481.3 381.3,483.8 385,485 391.3,486.3 400.8,485.5 418,487 425.5,487 446.3,487.5 463.3,487.5 480.8,488"/>
<circle cx="298.5" cy="489.2" r="1.05" fill="#2f6a3c"/>
<circle cx="302.3" cy="489.6" r="1.05" fill="#2f6a3c"/>
<circle cx="306.8" cy="489.6" r="1.05" fill="#2f6a3c"/>
<circle cx="310.1" cy="489.6" r="1.05" fill="#2f6a3c"/>
<circle cx="313" cy="479.6" r="1.05" fill="#2f6a3c"/>
<circle cx="314.6" cy="428.1" r="1.05" fill="#2f6a3c"/>
<circle cx="315.7" cy="391.2" r="1.05" fill="#2f6a3c"/>
<circle cx="316.4" cy="396.8" r="1.05" fill="#2f6a3c"/>
<circle cx="318" cy="399" r="1.05" fill="#2f6a3c"/>
<circle cx="320.2" cy="419.1" r="1.05" fill="#2f6a3c"/>
<circle cx="320.9" cy="425.9" r="1.05" fill="#2f6a3c"/>
<circle cx="322.4" cy="442.6" r="1.05" fill="#2f6a3c"/>
<circle cx="323.1" cy="446.7" r="1.05" fill="#2f6a3c"/>
<circle cx="326.9" cy="423.6" r="1.05" fill="#2f6a3c"/>
<circle cx="327.6" cy="430.3" r="1.05" fill="#2f6a3c"/>
<circle cx="330.7" cy="442.6" r="1.05" fill="#2f6a3c"/>
<circle cx="332.1" cy="449.4" r="1.05" fill="#2f6a3c"/>
<circle cx="332.5" cy="457.2" r="1.05" fill="#2f6a3c"/>
<circle cx="333.6" cy="463.9" r="1.05" fill="#2f6a3c"/>
<circle cx="335.9" cy="468.4" r="1.05" fill="#2f6a3c"/>
<circle cx="338.1" cy="471.3" r="1.05" fill="#2f6a3c"/>
<circle cx="340.3" cy="474" r="1.05" fill="#2f6a3c"/>
<circle cx="344.8" cy="478" r="1.05" fill="#2f6a3c"/>
<circle cx="347" cy="479.6" r="1.05" fill="#2f6a3c"/>
<circle cx="349.3" cy="478" r="1.05" fill="#2f6a3c"/>
<circle cx="353.8" cy="475.7" r="1.05" fill="#2f6a3c"/>
<circle cx="357.1" cy="478.4" r="1.05" fill="#2f6a3c"/>
<circle cx="361.1" cy="481.1" r="1.05" fill="#2f6a3c"/>
<circle cx="363.8" cy="482.5" r="1.05" fill="#2f6a3c"/>
<circle cx="366.1" cy="484" r="1.05" fill="#2f6a3c"/>
<circle cx="369.9" cy="483.4" r="1.05" fill="#2f6a3c"/>
<circle cx="373" cy="481.3" r="1.05" fill="#2f6a3c"/>
<circle cx="381.3" cy="483.8" r="1.05" fill="#2f6a3c"/>
<circle cx="385" cy="485" r="1.05" fill="#2f6a3c"/>
<circle cx="391.3" cy="486.3" r="1.05" fill="#2f6a3c"/>
<circle cx="400.8" cy="485.5" r="1.05" fill="#2f6a3c"/>
<circle cx="418" cy="487" r="1.05" fill="#2f6a3c"/>
<circle cx="425.5" cy="487" r="1.05" fill="#2f6a3c"/>
<circle cx="446.3" cy="487.5" r="1.05" fill="#2f6a3c"/>
<circle cx="463.3" cy="487.5" r="1.05" fill="#2f6a3c"/>
<circle cx="480.8" cy="488" r="1.05" fill="#2f6a3c"/>
<circle cx="322.3" cy="525.6" r="1.45" fill="#1b2d50"/>
<text x="327.8" y="527.95" font-size="6.5" text-anchor="start" fill="#222" textLength="70.6" lengthAdjust="spacingAndGlyphs" stroke="#222" stroke-width="0.12">FIX Replacement Therapy</text>
<line x1="401.4" y1="525.5" x2="410.2" y2="525.5" stroke="#f0a852" stroke-width="1"/>
<rect x="404.3" y="524" width="3" height="3" fill="#cc8229"/>
<text x="413.4" y="527.85" font-size="6.5" text-anchor="start" fill="#222" textLength="12.4" lengthAdjust="spacingAndGlyphs" stroke="#222" stroke-width="0.12">−FIX</text>
<line x1="429" y1="525.5" x2="437.8" y2="525.5" stroke="#559a5e" stroke-width="1"/>
<circle cx="433.4" cy="525.5" r="1.4" fill="#2f6a3c"/>
<text x="441" y="527.85" font-size="6.5" text-anchor="start" fill="#222" textLength="14.3" lengthAdjust="spacingAndGlyphs" stroke="#222" stroke-width="0.12">−ALT</text>
<line x1="0" y1="0.5" x2="520" y2="0.5" stroke="#5a5a5a" stroke-width="1"/>
<line x1="0.5" y1="0" x2="0.5" y2="536" stroke="#6a6a6a" stroke-width="1"/>
<line x1="518.5" y1="1" x2="518.5" y2="535" stroke="#d2d2d2" stroke-width="1"/>
<line x1="1" y1="534.5" x2="519" y2="534.5" stroke="#d6d6d6" stroke-width="1"/>
<line x1="519.5" y1="0" x2="519.5" y2="536" stroke="#555" stroke-width="1"/>
<line x1="0" y1="535.5" x2="520" y2="535.5" stroke="#585858" stroke-width="1"/>
</svg>
</body></html>
